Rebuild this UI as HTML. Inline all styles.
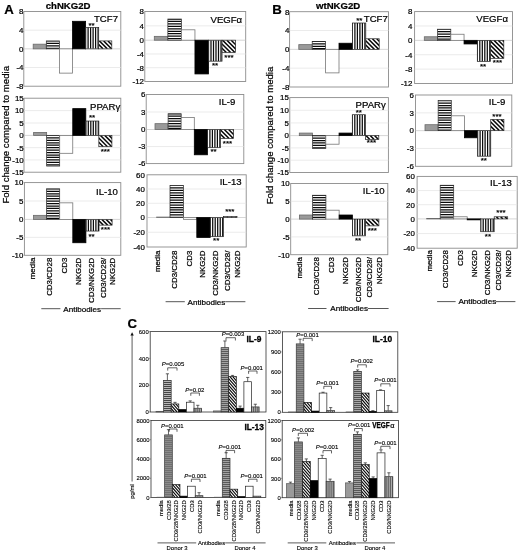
<!DOCTYPE html>
<html lang="en"><head><meta charset="utf-8"><title>NKG2D cytokine figure</title>
<style>html,body{margin:0;padding:0;background:#fff}svg{display:block}text{font-family:'Liberation Sans', Arial, Helvetica, sans-serif;stroke:#000;stroke-width:.22px}</style>
</head><body>
<svg width="520" height="552" viewBox="0 0 520 552">
<defs>
</defs>
<rect width="520" height="552" fill="#fff"/>
<text x="4.2" y="13.8" font-size="13.2" text-anchor="start" font-weight="bold" fill="#000">A</text>
<text x="68.1" y="9.2" font-size="9.6" text-anchor="middle" font-weight="bold" fill="#000">chNKG2D</text>
<text x="9.2" y="134.8" font-size="9.6" text-anchor="middle" fill="#000" transform="rotate(-90 9.2 134.8)">Fold change compared to media</text>
<rect x="23.8" y="11.5" width="97" height="74.7" fill="#fff" stroke="#8c8c8c" stroke-width="0.9"/>
<line x1="23.8" y1="30.18" x2="120.8" y2="30.18" stroke="#e2e2e2" stroke-width="0.7"/>
<line x1="23.8" y1="48.85" x2="120.8" y2="48.85" stroke="#c4c4c4" stroke-width="0.7"/>
<line x1="23.8" y1="67.53" x2="120.8" y2="67.53" stroke="#e2e2e2" stroke-width="0.7"/>
<text x="23.5" y="14.34" font-size="7.9" text-anchor="end" fill="#000">8</text>
<text x="23.5" y="33.02" font-size="7.9" text-anchor="end" fill="#000">4</text>
<text x="23.5" y="51.69" font-size="7.9" text-anchor="end" fill="#000">0</text>
<text x="23.5" y="70.37" font-size="7.9" text-anchor="end" fill="#000">-4</text>
<text x="23.5" y="89.04" font-size="7.9" text-anchor="end" fill="#000">-8</text>
<rect x="33.2" y="44.18" width="13.1" height="4.67" fill="#9a9a9a" stroke="#6a6a6a" stroke-width="0.8"/>
<clipPath id="c1"><rect x="46.3" y="40.91" width="13.1" height="7.94"/></clipPath>
<rect x="46.3" y="40.91" width="13.1" height="7.94" fill="#fff"/>
<path d="M46.3 40.91H59.4M46.3 43.36H59.4M46.3 45.81H59.4M46.3 48.26H59.4" stroke="#0a0a0a" stroke-width="1.25" fill="none" clip-path="url(#c1)"/>
<rect x="46.3" y="40.91" width="13.1" height="7.94" fill="none" stroke="#222" stroke-width="0.7"/>
<rect x="59.4" y="48.85" width="13.1" height="24.28" fill="#ffffff" stroke="#777" stroke-width="0.8"/>
<rect x="72.5" y="21.3" width="13.1" height="27.55" fill="#000000" stroke="#000" stroke-width="0.8"/>
<clipPath id="c2"><rect x="85.6" y="27.37" width="13.1" height="21.48"/></clipPath>
<rect x="85.6" y="27.37" width="13.1" height="21.48" fill="#fff"/>
<path d="M85.6 27.37V48.85M88.1 27.37V48.85M90.6 27.37V48.85M93.1 27.37V48.85M95.6 27.37V48.85M98.1 27.37V48.85" stroke="#0a0a0a" stroke-width="1.25" fill="none" clip-path="url(#c2)"/>
<rect x="85.6" y="27.37" width="13.1" height="21.48" fill="none" stroke="#222" stroke-width="0.7"/>
<clipPath id="c3"><rect x="98.7" y="40.91" width="13.1" height="7.94"/></clipPath>
<rect x="98.7" y="40.91" width="13.1" height="7.94" fill="#fff"/>
<path d="M86.46 40.91L94.4 48.85M90.76 40.91L98.7 48.85M95.06 40.91L103 48.85M99.36 40.91L107.3 48.85M103.66 40.91L111.6 48.85M107.96 40.91L115.9 48.85M112.26 40.91L120.2 48.85" stroke="#0a0a0a" stroke-width="1.5" fill="none" clip-path="url(#c3)"/>
<rect x="98.7" y="40.91" width="13.1" height="7.94" fill="none" stroke="#222" stroke-width="0.7"/>
<text x="94" y="22" font-size="9.6" text-anchor="start" fill="#000">TCF7</text>
<text x="91.5" y="27.5" font-size="8" text-anchor="middle" fill="#000">**</text>
<rect x="24" y="98.2" width="96.8" height="74" fill="#fff" stroke="#8c8c8c" stroke-width="0.9"/>
<line x1="24" y1="110.6" x2="120.8" y2="110.6" stroke="#e2e2e2" stroke-width="0.7"/>
<line x1="24" y1="123" x2="120.8" y2="123" stroke="#e2e2e2" stroke-width="0.7"/>
<line x1="24" y1="135.4" x2="120.8" y2="135.4" stroke="#c4c4c4" stroke-width="0.7"/>
<line x1="24" y1="147.67" x2="120.8" y2="147.67" stroke="#e2e2e2" stroke-width="0.7"/>
<line x1="24" y1="159.93" x2="120.8" y2="159.93" stroke="#e2e2e2" stroke-width="0.7"/>
<text x="23.7" y="101.04" font-size="7.9" text-anchor="end" fill="#000">15</text>
<text x="23.7" y="113.44" font-size="7.9" text-anchor="end" fill="#000">10</text>
<text x="23.7" y="125.84" font-size="7.9" text-anchor="end" fill="#000">5</text>
<text x="23.7" y="138.24" font-size="7.9" text-anchor="end" fill="#000">0</text>
<text x="23.7" y="150.51" font-size="7.9" text-anchor="end" fill="#000">-5</text>
<text x="23.7" y="162.78" font-size="7.9" text-anchor="end" fill="#000">-10</text>
<text x="23.7" y="175.04" font-size="7.9" text-anchor="end" fill="#000">-15</text>
<rect x="33.6" y="132.42" width="13.05" height="2.98" fill="#9a9a9a" stroke="#6a6a6a" stroke-width="0.8"/>
<clipPath id="c4"><rect x="46.65" y="135.4" width="13.05" height="30.67"/></clipPath>
<rect x="46.65" y="135.4" width="13.05" height="30.67" fill="#fff"/>
<path d="M46.65 135.4H59.7M46.65 137.85H59.7M46.65 140.3H59.7M46.65 142.75H59.7M46.65 145.2H59.7M46.65 147.65H59.7M46.65 150.1H59.7M46.65 152.55H59.7M46.65 155H59.7M46.65 157.45H59.7M46.65 159.9H59.7M46.65 162.35H59.7M46.65 164.8H59.7M46.65 167.25H59.7" stroke="#0a0a0a" stroke-width="1.25" fill="none" clip-path="url(#c4)"/>
<rect x="46.65" y="135.4" width="13.05" height="30.67" fill="none" stroke="#222" stroke-width="0.7"/>
<rect x="59.7" y="135.4" width="13.05" height="17.91" fill="#ffffff" stroke="#777" stroke-width="0.8"/>
<rect x="72.75" y="108.62" width="13.05" height="26.78" fill="#000000" stroke="#000" stroke-width="0.8"/>
<clipPath id="c5"><rect x="85.8" y="121.02" width="13.05" height="14.38"/></clipPath>
<rect x="85.8" y="121.02" width="13.05" height="14.38" fill="#fff"/>
<path d="M85.8 121.02V135.4M88.3 121.02V135.4M90.8 121.02V135.4M93.3 121.02V135.4M95.8 121.02V135.4M98.3 121.02V135.4" stroke="#0a0a0a" stroke-width="1.25" fill="none" clip-path="url(#c5)"/>
<rect x="85.8" y="121.02" width="13.05" height="14.38" fill="none" stroke="#222" stroke-width="0.7"/>
<clipPath id="c6"><rect x="98.85" y="135.4" width="13.05" height="11.29"/></clipPath>
<rect x="98.85" y="135.4" width="13.05" height="11.29" fill="#fff"/>
<path d="M83.26 135.4L94.55 146.69M87.56 135.4L98.85 146.69M91.86 135.4L103.15 146.69M96.16 135.4L107.45 146.69M100.46 135.4L111.75 146.69M104.76 135.4L116.05 146.69M109.06 135.4L120.35 146.69M113.36 135.4L124.65 146.69" stroke="#0a0a0a" stroke-width="1.5" fill="none" clip-path="url(#c6)"/>
<rect x="98.85" y="135.4" width="13.05" height="11.29" fill="none" stroke="#222" stroke-width="0.7"/>
<text x="90" y="109.5" font-size="9.6" text-anchor="start" fill="#000">PPARγ</text>
<text x="92" y="119.6" font-size="8" text-anchor="middle" fill="#000">**</text>
<text x="105.3" y="153.6" font-size="8" text-anchor="middle" fill="#000">***</text>
<rect x="24.4" y="182.6" width="96.4" height="72.7" fill="#fff" stroke="#8c8c8c" stroke-width="0.9"/>
<line x1="24.4" y1="201" x2="120.8" y2="201" stroke="#e2e2e2" stroke-width="0.7"/>
<line x1="24.4" y1="219.4" x2="120.8" y2="219.4" stroke="#c4c4c4" stroke-width="0.7"/>
<line x1="24.4" y1="237.35" x2="120.8" y2="237.35" stroke="#e2e2e2" stroke-width="0.7"/>
<text x="23.3" y="185.44" font-size="7.9" text-anchor="end" fill="#000">10</text>
<text x="23.3" y="203.84" font-size="7.9" text-anchor="end" fill="#000">5</text>
<text x="23.3" y="222.24" font-size="7.9" text-anchor="end" fill="#000">0</text>
<text x="23.3" y="240.19" font-size="7.9" text-anchor="end" fill="#000">-5</text>
<text x="23.3" y="258.14" font-size="7.9" text-anchor="end" fill="#000">-10</text>
<rect x="33.5" y="215.35" width="13.1" height="4.05" fill="#9a9a9a" stroke="#6a6a6a" stroke-width="0.8"/>
<clipPath id="c7"><rect x="46.6" y="188.86" width="13.1" height="30.54"/></clipPath>
<rect x="46.6" y="188.86" width="13.1" height="30.54" fill="#fff"/>
<path d="M46.6 188.86H59.7M46.6 191.31H59.7M46.6 193.76H59.7M46.6 196.21H59.7M46.6 198.66H59.7M46.6 201.11H59.7M46.6 203.56H59.7M46.6 206.01H59.7M46.6 208.46H59.7M46.6 210.91H59.7M46.6 213.36H59.7M46.6 215.81H59.7M46.6 218.26H59.7" stroke="#0a0a0a" stroke-width="1.25" fill="none" clip-path="url(#c7)"/>
<rect x="46.6" y="188.86" width="13.1" height="30.54" fill="none" stroke="#222" stroke-width="0.7"/>
<rect x="59.7" y="202.84" width="13.1" height="16.56" fill="#ffffff" stroke="#777" stroke-width="0.8"/>
<rect x="72.8" y="219.4" width="13.1" height="23.34" fill="#000000" stroke="#000" stroke-width="0.8"/>
<clipPath id="c8"><rect x="85.9" y="219.4" width="13.1" height="11.67"/></clipPath>
<rect x="85.9" y="219.4" width="13.1" height="11.67" fill="#fff"/>
<path d="M85.9 219.4V231.07M88.4 219.4V231.07M90.9 219.4V231.07M93.4 219.4V231.07M95.9 219.4V231.07M98.4 219.4V231.07" stroke="#0a0a0a" stroke-width="1.25" fill="none" clip-path="url(#c8)"/>
<rect x="85.9" y="219.4" width="13.1" height="11.67" fill="none" stroke="#222" stroke-width="0.7"/>
<clipPath id="c9"><rect x="99" y="219.4" width="13.1" height="5.74"/></clipPath>
<rect x="99" y="219.4" width="13.1" height="5.74" fill="#fff"/>
<path d="M88.96 219.4L94.7 225.14M93.26 219.4L99 225.14M97.56 219.4L103.3 225.14M101.86 219.4L107.6 225.14M106.16 219.4L111.9 225.14M110.46 219.4L116.2 225.14M114.76 219.4L120.5 225.14" stroke="#0a0a0a" stroke-width="1.5" fill="none" clip-path="url(#c9)"/>
<rect x="99" y="219.4" width="13.1" height="5.74" fill="none" stroke="#222" stroke-width="0.7"/>
<text x="96" y="194.8" font-size="9.6" text-anchor="start" fill="#000">IL-10</text>
<text x="91.5" y="239" font-size="8" text-anchor="middle" fill="#000">**</text>
<text x="105.5" y="232" font-size="8" text-anchor="middle" fill="#000">***</text>
<text x="35.5" y="257.7" font-size="7.9" text-anchor="end" fill="#000" transform="rotate(-90 35.5 257.7)">media</text>
<text x="52" y="257.7" font-size="7.9" text-anchor="end" fill="#000" transform="rotate(-90 52 257.7)">CD3/CD28</text>
<text x="67.4" y="257.7" font-size="7.9" text-anchor="end" fill="#000" transform="rotate(-90 67.4 257.7)">CD3</text>
<text x="81.2" y="257.7" font-size="7.9" text-anchor="end" fill="#000" transform="rotate(-90 81.2 257.7)">NKG2D</text>
<text x="94.1" y="257.7" font-size="7.9" text-anchor="end" fill="#000" transform="rotate(-90 94.1 257.7)">CD3/NKG2D</text>
<text x="105.7" y="257.7" font-size="7.9" text-anchor="end" fill="#000" transform="rotate(-90 105.7 257.7)">CD3/CD28/</text>
<text x="115.1" y="257.7" font-size="7.9" text-anchor="end" fill="#000" transform="rotate(-90 115.1 257.7)">NKG2D</text>
<text x="82.2" y="311.53" font-size="8.1" text-anchor="middle" fill="#000">Antibodies</text>
<line x1="41.3" y1="308.7" x2="60.4" y2="308.7" stroke="#444" stroke-width="0.9"/>
<line x1="101.1" y1="308.7" x2="120.7" y2="308.7" stroke="#444" stroke-width="0.9"/>
<rect x="144.8" y="11.5" width="100.9" height="70" fill="#fff" stroke="#8c8c8c" stroke-width="0.9"/>
<line x1="144.8" y1="25.85" x2="245.7" y2="25.85" stroke="#e2e2e2" stroke-width="0.7"/>
<line x1="144.8" y1="40.2" x2="245.7" y2="40.2" stroke="#c4c4c4" stroke-width="0.7"/>
<line x1="144.8" y1="53.97" x2="245.7" y2="53.97" stroke="#e2e2e2" stroke-width="0.7"/>
<line x1="144.8" y1="67.73" x2="245.7" y2="67.73" stroke="#e2e2e2" stroke-width="0.7"/>
<text x="144" y="14.34" font-size="7.9" text-anchor="end" fill="#000">8</text>
<text x="144" y="28.69" font-size="7.9" text-anchor="end" fill="#000">4</text>
<text x="144" y="43.04" font-size="7.9" text-anchor="end" fill="#000">0</text>
<text x="144" y="56.81" font-size="7.9" text-anchor="end" fill="#000">-4</text>
<text x="144" y="70.58" font-size="7.9" text-anchor="end" fill="#000">-8</text>
<text x="144" y="84.34" font-size="7.9" text-anchor="end" fill="#000">-12</text>
<rect x="154.3" y="36.36" width="13.55" height="3.84" fill="#9a9a9a" stroke="#6a6a6a" stroke-width="0.8"/>
<clipPath id="c10"><rect x="167.85" y="19.03" width="13.55" height="21.17"/></clipPath>
<rect x="167.85" y="19.03" width="13.55" height="21.17" fill="#fff"/>
<path d="M167.85 19.03H181.4M167.85 21.48H181.4M167.85 23.93H181.4M167.85 26.38H181.4M167.85 28.83H181.4M167.85 31.28H181.4M167.85 33.73H181.4M167.85 36.18H181.4M167.85 38.63H181.4M167.85 41.08H181.4" stroke="#0a0a0a" stroke-width="1.25" fill="none" clip-path="url(#c10)"/>
<rect x="167.85" y="19.03" width="13.55" height="21.17" fill="none" stroke="#222" stroke-width="0.7"/>
<rect x="181.4" y="29.8" width="13.55" height="10.4" fill="#ffffff" stroke="#777" stroke-width="0.8"/>
<rect x="194.95" y="40.2" width="13.55" height="33.73" fill="#000000" stroke="#000" stroke-width="0.8"/>
<clipPath id="c11"><rect x="208.5" y="40.2" width="13.55" height="20.99"/></clipPath>
<rect x="208.5" y="40.2" width="13.55" height="20.99" fill="#fff"/>
<path d="M208.5 40.2V61.19M211 40.2V61.19M213.5 40.2V61.19M216 40.2V61.19M218.5 40.2V61.19M221 40.2V61.19" stroke="#0a0a0a" stroke-width="1.25" fill="none" clip-path="url(#c11)"/>
<rect x="208.5" y="40.2" width="13.55" height="20.99" fill="none" stroke="#222" stroke-width="0.7"/>
<clipPath id="c12"><rect x="222.05" y="40.2" width="13.55" height="12.39"/></clipPath>
<rect x="222.05" y="40.2" width="13.55" height="12.39" fill="#fff"/>
<path d="M205.36 40.2L217.75 52.59M209.66 40.2L222.05 52.59M213.96 40.2L226.35 52.59M218.26 40.2L230.65 52.59M222.56 40.2L234.95 52.59M226.86 40.2L239.25 52.59M231.16 40.2L243.55 52.59M235.46 40.2L247.85 52.59M239.76 40.2L252.15 52.59" stroke="#0a0a0a" stroke-width="1.5" fill="none" clip-path="url(#c12)"/>
<rect x="222.05" y="40.2" width="13.55" height="12.39" fill="none" stroke="#222" stroke-width="0.7"/>
<text x="210.5" y="23" font-size="9.6" text-anchor="start" fill="#000">VEGFα</text>
<text x="215" y="68" font-size="8" text-anchor="middle" fill="#000">**</text>
<text x="229" y="59.5" font-size="8" text-anchor="middle" fill="#000">***</text>
<rect x="146.2" y="94.5" width="97.6" height="69.1" fill="#fff" stroke="#8c8c8c" stroke-width="0.9"/>
<line x1="146.2" y1="112" x2="243.8" y2="112" stroke="#e2e2e2" stroke-width="0.7"/>
<line x1="146.2" y1="129.5" x2="243.8" y2="129.5" stroke="#c4c4c4" stroke-width="0.7"/>
<line x1="146.2" y1="146.55" x2="243.8" y2="146.55" stroke="#e2e2e2" stroke-width="0.7"/>
<text x="145.5" y="97.34" font-size="7.9" text-anchor="end" fill="#000">6</text>
<text x="145.5" y="114.84" font-size="7.9" text-anchor="end" fill="#000">3</text>
<text x="145.5" y="132.34" font-size="7.9" text-anchor="end" fill="#000">0</text>
<text x="145.5" y="149.39" font-size="7.9" text-anchor="end" fill="#000">-3</text>
<text x="145.5" y="166.44" font-size="7.9" text-anchor="end" fill="#000">-6</text>
<rect x="155" y="123.67" width="13.1" height="5.83" fill="#9a9a9a" stroke="#6a6a6a" stroke-width="0.8"/>
<clipPath id="c13"><rect x="168.1" y="113.75" width="13.1" height="15.75"/></clipPath>
<rect x="168.1" y="113.75" width="13.1" height="15.75" fill="#fff"/>
<path d="M168.1 113.75H181.2M168.1 116.2H181.2M168.1 118.65H181.2M168.1 121.1H181.2M168.1 123.55H181.2M168.1 126H181.2M168.1 128.45H181.2" stroke="#0a0a0a" stroke-width="1.25" fill="none" clip-path="url(#c13)"/>
<rect x="168.1" y="113.75" width="13.1" height="15.75" fill="none" stroke="#222" stroke-width="0.7"/>
<rect x="181.2" y="117.54" width="13.1" height="11.96" fill="#ffffff" stroke="#777" stroke-width="0.8"/>
<rect x="194.3" y="129.5" width="13.1" height="25.29" fill="#000000" stroke="#000" stroke-width="0.8"/>
<clipPath id="c14"><rect x="207.4" y="129.5" width="13.1" height="18.19"/></clipPath>
<rect x="207.4" y="129.5" width="13.1" height="18.19" fill="#fff"/>
<path d="M207.4 129.5V147.69M209.9 129.5V147.69M212.4 129.5V147.69M214.9 129.5V147.69M217.4 129.5V147.69M219.9 129.5V147.69" stroke="#0a0a0a" stroke-width="1.25" fill="none" clip-path="url(#c14)"/>
<rect x="207.4" y="129.5" width="13.1" height="18.19" fill="none" stroke="#222" stroke-width="0.7"/>
<clipPath id="c15"><rect x="220.5" y="129.5" width="13.1" height="9.09"/></clipPath>
<rect x="220.5" y="129.5" width="13.1" height="9.09" fill="#fff"/>
<path d="M207.11 129.5L216.2 138.59M211.41 129.5L220.5 138.59M215.71 129.5L224.8 138.59M220.01 129.5L229.1 138.59M224.31 129.5L233.4 138.59M228.61 129.5L237.7 138.59M232.91 129.5L242 138.59M237.21 129.5L246.3 138.59" stroke="#0a0a0a" stroke-width="1.5" fill="none" clip-path="url(#c15)"/>
<rect x="220.5" y="129.5" width="13.1" height="9.09" fill="none" stroke="#222" stroke-width="0.7"/>
<text x="218.8" y="104.5" font-size="9.6" text-anchor="start" fill="#000">IL-9</text>
<text x="213.5" y="154.3" font-size="8" text-anchor="middle" fill="#000">**</text>
<text x="227.5" y="145.6" font-size="8" text-anchor="middle" fill="#000">***</text>
<rect x="147" y="174.8" width="99.2" height="72.2" fill="#fff" stroke="#8c8c8c" stroke-width="0.9"/>
<line x1="147" y1="189.03" x2="246.2" y2="189.03" stroke="#e2e2e2" stroke-width="0.7"/>
<line x1="147" y1="203.27" x2="246.2" y2="203.27" stroke="#e2e2e2" stroke-width="0.7"/>
<line x1="147" y1="217.5" x2="246.2" y2="217.5" stroke="#c4c4c4" stroke-width="0.7"/>
<line x1="147" y1="232.25" x2="246.2" y2="232.25" stroke="#e2e2e2" stroke-width="0.7"/>
<text x="144.8" y="177.64" font-size="7.9" text-anchor="end" fill="#000">60</text>
<text x="144.8" y="191.88" font-size="7.9" text-anchor="end" fill="#000">40</text>
<text x="144.8" y="206.11" font-size="7.9" text-anchor="end" fill="#000">20</text>
<text x="144.8" y="220.34" font-size="7.9" text-anchor="end" fill="#000">0</text>
<text x="144.8" y="235.09" font-size="7.9" text-anchor="end" fill="#000">-20</text>
<text x="144.8" y="249.84" font-size="7.9" text-anchor="end" fill="#000">-40</text>
<rect x="156.6" y="217.07" width="13.4" height="0.43" fill="#9a9a9a" stroke="#6a6a6a" stroke-width="0.8"/>
<clipPath id="c16"><rect x="170" y="185.48" width="13.4" height="32.02"/></clipPath>
<rect x="170" y="185.48" width="13.4" height="32.02" fill="#fff"/>
<path d="M170 185.48H183.4M170 187.93H183.4M170 190.38H183.4M170 192.83H183.4M170 195.28H183.4M170 197.73H183.4M170 200.18H183.4M170 202.63H183.4M170 205.08H183.4M170 207.53H183.4M170 209.98H183.4M170 212.43H183.4M170 214.88H183.4M170 217.33H183.4" stroke="#0a0a0a" stroke-width="1.25" fill="none" clip-path="url(#c16)"/>
<rect x="170" y="185.48" width="13.4" height="32.02" fill="none" stroke="#222" stroke-width="0.7"/>
<rect x="183.4" y="217.5" width="13.4" height="1.84" fill="#ffffff" stroke="#777" stroke-width="0.8"/>
<rect x="196.8" y="217.5" width="13.4" height="19.91" fill="#000000" stroke="#000" stroke-width="0.8"/>
<clipPath id="c17"><rect x="210.2" y="217.5" width="13.4" height="19.18"/></clipPath>
<rect x="210.2" y="217.5" width="13.4" height="19.18" fill="#fff"/>
<path d="M210.2 217.5V236.68M212.7 217.5V236.68M215.2 217.5V236.68M217.7 217.5V236.68M220.2 217.5V236.68M222.7 217.5V236.68" stroke="#0a0a0a" stroke-width="1.25" fill="none" clip-path="url(#c17)"/>
<rect x="210.2" y="217.5" width="13.4" height="19.18" fill="none" stroke="#222" stroke-width="0.7"/>
<clipPath id="c18"><rect x="223.6" y="216.5" width="13.4" height="1"/></clipPath>
<rect x="223.6" y="216.5" width="13.4" height="1" fill="#fff"/>
<path d="M218.3 216.5L219.3 217.5M222.6 216.5L223.6 217.5M226.9 216.5L227.9 217.5M231.2 216.5L232.2 217.5M235.5 216.5L236.5 217.5M239.8 216.5L240.8 217.5" stroke="#0a0a0a" stroke-width="1.5" fill="none" clip-path="url(#c18)"/>
<rect x="223.6" y="216.5" width="13.4" height="1" fill="none" stroke="#222" stroke-width="0.7"/>
<text x="219.7" y="185.4" font-size="9.6" text-anchor="start" fill="#000">IL-13</text>
<text x="216.2" y="242.5" font-size="8" text-anchor="middle" fill="#000">**</text>
<text x="229.8" y="214" font-size="8" text-anchor="middle" fill="#000">***</text>
<text x="159.7" y="250.6" font-size="7.9" text-anchor="end" fill="#000" transform="rotate(-90 159.7 250.6)">media</text>
<text x="176.6" y="250.6" font-size="7.9" text-anchor="end" fill="#000" transform="rotate(-90 176.6 250.6)">CD3/CD28</text>
<text x="192" y="250.6" font-size="7.9" text-anchor="end" fill="#000" transform="rotate(-90 192 250.6)">CD3</text>
<text x="205.4" y="250.6" font-size="7.9" text-anchor="end" fill="#000" transform="rotate(-90 205.4 250.6)">NKG2D</text>
<text x="218.4" y="250.6" font-size="7.9" text-anchor="end" fill="#000" transform="rotate(-90 218.4 250.6)">CD3/NKG2D</text>
<text x="229.9" y="250.6" font-size="7.9" text-anchor="end" fill="#000" transform="rotate(-90 229.9 250.6)">CD3/CD28/</text>
<text x="239.8" y="250.6" font-size="7.9" text-anchor="end" fill="#000" transform="rotate(-90 239.8 250.6)">NKG2D</text>
<text x="206.5" y="304.53" font-size="8.1" text-anchor="middle" fill="#000">Antibodies</text>
<line x1="165.6" y1="301.7" x2="184.8" y2="301.7" stroke="#444" stroke-width="0.9"/>
<line x1="225.2" y1="301.7" x2="245.4" y2="301.7" stroke="#444" stroke-width="0.9"/>
<text x="272.3" y="13.8" font-size="13.2" text-anchor="start" font-weight="bold" fill="#000">B</text>
<text x="338.1" y="9.2" font-size="9.6" text-anchor="middle" font-weight="bold" fill="#000">wtNKG2D</text>
<text x="273.4" y="135.5" font-size="9.6" text-anchor="middle" fill="#000" transform="rotate(-90 273.4 135.5)">Fold change compared to media</text>
<rect x="289.6" y="11.7" width="98.9" height="75.3" fill="#fff" stroke="#8c8c8c" stroke-width="0.9"/>
<line x1="289.6" y1="30.52" x2="388.5" y2="30.52" stroke="#e2e2e2" stroke-width="0.7"/>
<line x1="289.6" y1="49.35" x2="388.5" y2="49.35" stroke="#c4c4c4" stroke-width="0.7"/>
<line x1="289.6" y1="68.17" x2="388.5" y2="68.17" stroke="#e2e2e2" stroke-width="0.7"/>
<text x="289.3" y="14.54" font-size="7.9" text-anchor="end" fill="#000">8</text>
<text x="289.3" y="33.37" font-size="7.9" text-anchor="end" fill="#000">4</text>
<text x="289.3" y="52.19" font-size="7.9" text-anchor="end" fill="#000">0</text>
<text x="289.3" y="71.02" font-size="7.9" text-anchor="end" fill="#000">-4</text>
<text x="289.3" y="89.84" font-size="7.9" text-anchor="end" fill="#000">-8</text>
<rect x="298.8" y="44.64" width="13.4" height="4.71" fill="#9a9a9a" stroke="#6a6a6a" stroke-width="0.8"/>
<clipPath id="c19"><rect x="312.2" y="41.35" width="13.4" height="8"/></clipPath>
<rect x="312.2" y="41.35" width="13.4" height="8" fill="#fff"/>
<path d="M312.2 41.35H325.6M312.2 43.8H325.6M312.2 46.25H325.6M312.2 48.7H325.6" stroke="#0a0a0a" stroke-width="1.25" fill="none" clip-path="url(#c19)"/>
<rect x="312.2" y="41.35" width="13.4" height="8" fill="none" stroke="#222" stroke-width="0.7"/>
<rect x="325.6" y="49.35" width="13.4" height="23.53" fill="#ffffff" stroke="#777" stroke-width="0.8"/>
<rect x="339" y="43.23" width="13.4" height="6.12" fill="#000000" stroke="#000" stroke-width="0.8"/>
<clipPath id="c20"><rect x="352.4" y="23" width="13.4" height="26.35"/></clipPath>
<rect x="352.4" y="23" width="13.4" height="26.35" fill="#fff"/>
<path d="M352.4 23V49.35M354.9 23V49.35M357.4 23V49.35M359.9 23V49.35M362.4 23V49.35M364.9 23V49.35" stroke="#0a0a0a" stroke-width="1.25" fill="none" clip-path="url(#c20)"/>
<rect x="352.4" y="23" width="13.4" height="26.35" fill="none" stroke="#222" stroke-width="0.7"/>
<clipPath id="c21"><rect x="365.8" y="38.76" width="13.4" height="10.59"/></clipPath>
<rect x="365.8" y="38.76" width="13.4" height="10.59" fill="#fff"/>
<path d="M350.91 38.76L361.5 49.35M355.21 38.76L365.8 49.35M359.51 38.76L370.1 49.35M363.81 38.76L374.4 49.35M368.11 38.76L378.7 49.35M372.41 38.76L383 49.35M376.71 38.76L387.3 49.35M381.01 38.76L391.6 49.35" stroke="#0a0a0a" stroke-width="1.5" fill="none" clip-path="url(#c21)"/>
<rect x="365.8" y="38.76" width="13.4" height="10.59" fill="none" stroke="#222" stroke-width="0.7"/>
<text x="363.8" y="22" font-size="9.6" text-anchor="start" fill="#000">TCF7</text>
<text x="359.3" y="23.2" font-size="8" text-anchor="middle" fill="#000">**</text>
<rect x="289.8" y="97.6" width="98.6" height="74.9" fill="#fff" stroke="#8c8c8c" stroke-width="0.9"/>
<line x1="289.8" y1="110.27" x2="388.4" y2="110.27" stroke="#e2e2e2" stroke-width="0.7"/>
<line x1="289.8" y1="122.93" x2="388.4" y2="122.93" stroke="#e2e2e2" stroke-width="0.7"/>
<line x1="289.8" y1="135.6" x2="388.4" y2="135.6" stroke="#c4c4c4" stroke-width="0.7"/>
<line x1="289.8" y1="147.9" x2="388.4" y2="147.9" stroke="#e2e2e2" stroke-width="0.7"/>
<line x1="289.8" y1="160.2" x2="388.4" y2="160.2" stroke="#e2e2e2" stroke-width="0.7"/>
<text x="288.9" y="100.44" font-size="7.9" text-anchor="end" fill="#000">15</text>
<text x="288.9" y="113.11" font-size="7.9" text-anchor="end" fill="#000">10</text>
<text x="288.9" y="125.78" font-size="7.9" text-anchor="end" fill="#000">5</text>
<text x="288.9" y="138.44" font-size="7.9" text-anchor="end" fill="#000">0</text>
<text x="288.9" y="150.74" font-size="7.9" text-anchor="end" fill="#000">-5</text>
<text x="288.9" y="163.04" font-size="7.9" text-anchor="end" fill="#000">-10</text>
<text x="288.9" y="175.34" font-size="7.9" text-anchor="end" fill="#000">-15</text>
<rect x="299.3" y="133.07" width="13.25" height="2.53" fill="#9a9a9a" stroke="#6a6a6a" stroke-width="0.8"/>
<clipPath id="c22"><rect x="312.55" y="135.6" width="13.25" height="12.79"/></clipPath>
<rect x="312.55" y="135.6" width="13.25" height="12.79" fill="#fff"/>
<path d="M312.55 135.6H325.8M312.55 138.05H325.8M312.55 140.5H325.8M312.55 142.95H325.8M312.55 145.4H325.8M312.55 147.85H325.8" stroke="#0a0a0a" stroke-width="1.25" fill="none" clip-path="url(#c22)"/>
<rect x="312.55" y="135.6" width="13.25" height="12.79" fill="none" stroke="#222" stroke-width="0.7"/>
<rect x="325.8" y="135.6" width="13.25" height="8.61" fill="#ffffff" stroke="#777" stroke-width="0.8"/>
<rect x="339.05" y="133.07" width="13.25" height="2.53" fill="#000000" stroke="#000" stroke-width="0.8"/>
<clipPath id="c23"><rect x="352.3" y="114.7" width="13.25" height="20.9"/></clipPath>
<rect x="352.3" y="114.7" width="13.25" height="20.9" fill="#fff"/>
<path d="M352.3 114.7V135.6M354.8 114.7V135.6M357.3 114.7V135.6M359.8 114.7V135.6M362.3 114.7V135.6M364.8 114.7V135.6" stroke="#0a0a0a" stroke-width="1.25" fill="none" clip-path="url(#c23)"/>
<rect x="352.3" y="114.7" width="13.25" height="20.9" fill="none" stroke="#222" stroke-width="0.7"/>
<clipPath id="c24"><rect x="365.55" y="135.6" width="13.25" height="3.81"/></clipPath>
<rect x="365.55" y="135.6" width="13.25" height="3.81" fill="#fff"/>
<path d="M357.44 135.6L361.25 139.41M361.74 135.6L365.55 139.41M366.04 135.6L369.85 139.41M370.34 135.6L374.15 139.41M374.64 135.6L378.45 139.41M378.94 135.6L382.75 139.41" stroke="#0a0a0a" stroke-width="1.5" fill="none" clip-path="url(#c24)"/>
<rect x="365.55" y="135.6" width="13.25" height="3.81" fill="none" stroke="#222" stroke-width="0.7"/>
<text x="355.6" y="108" font-size="9.6" text-anchor="start" fill="#000">PPARγ</text>
<text x="358.8" y="114.6" font-size="8" text-anchor="middle" fill="#000">**</text>
<text x="371.5" y="145.3" font-size="8" text-anchor="middle" fill="#000">***</text>
<rect x="290.7" y="183.5" width="97.1" height="71.2" fill="#fff" stroke="#8c8c8c" stroke-width="0.9"/>
<line x1="290.7" y1="201.3" x2="387.8" y2="201.3" stroke="#e2e2e2" stroke-width="0.7"/>
<line x1="290.7" y1="219.1" x2="387.8" y2="219.1" stroke="#c4c4c4" stroke-width="0.7"/>
<line x1="290.7" y1="236.9" x2="387.8" y2="236.9" stroke="#e2e2e2" stroke-width="0.7"/>
<text x="289.7" y="186.34" font-size="7.9" text-anchor="end" fill="#000">10</text>
<text x="289.7" y="204.14" font-size="7.9" text-anchor="end" fill="#000">5</text>
<text x="289.7" y="221.94" font-size="7.9" text-anchor="end" fill="#000">0</text>
<text x="289.7" y="239.74" font-size="7.9" text-anchor="end" fill="#000">-5</text>
<text x="289.7" y="257.54" font-size="7.9" text-anchor="end" fill="#000">-10</text>
<rect x="299.4" y="215.01" width="13.25" height="4.09" fill="#9a9a9a" stroke="#6a6a6a" stroke-width="0.8"/>
<clipPath id="c25"><rect x="312.65" y="195.25" width="13.25" height="23.85"/></clipPath>
<rect x="312.65" y="195.25" width="13.25" height="23.85" fill="#fff"/>
<path d="M312.65 195.25H325.9M312.65 197.7H325.9M312.65 200.15H325.9M312.65 202.6H325.9M312.65 205.05H325.9M312.65 207.5H325.9M312.65 209.95H325.9M312.65 212.4H325.9M312.65 214.85H325.9M312.65 217.3H325.9M312.65 219.75H325.9" stroke="#0a0a0a" stroke-width="1.25" fill="none" clip-path="url(#c25)"/>
<rect x="312.65" y="195.25" width="13.25" height="23.85" fill="none" stroke="#222" stroke-width="0.7"/>
<rect x="325.9" y="210.2" width="13.25" height="8.9" fill="#ffffff" stroke="#777" stroke-width="0.8"/>
<rect x="339.15" y="215.01" width="13.25" height="4.09" fill="#000000" stroke="#000" stroke-width="0.8"/>
<clipPath id="c26"><rect x="352.4" y="219.1" width="13.25" height="16.73"/></clipPath>
<rect x="352.4" y="219.1" width="13.25" height="16.73" fill="#fff"/>
<path d="M352.4 219.1V235.83M354.9 219.1V235.83M357.4 219.1V235.83M359.9 219.1V235.83M362.4 219.1V235.83M364.9 219.1V235.83" stroke="#0a0a0a" stroke-width="1.25" fill="none" clip-path="url(#c26)"/>
<rect x="352.4" y="219.1" width="13.25" height="16.73" fill="none" stroke="#222" stroke-width="0.7"/>
<clipPath id="c27"><rect x="365.65" y="219.1" width="13.25" height="6.76"/></clipPath>
<rect x="365.65" y="219.1" width="13.25" height="6.76" fill="#fff"/>
<path d="M354.59 219.1L361.35 225.86M358.89 219.1L365.65 225.86M363.19 219.1L369.95 225.86M367.49 219.1L374.25 225.86M371.79 219.1L378.55 225.86M376.09 219.1L382.85 225.86M380.39 219.1L387.15 225.86" stroke="#0a0a0a" stroke-width="1.5" fill="none" clip-path="url(#c27)"/>
<rect x="365.65" y="219.1" width="13.25" height="6.76" fill="none" stroke="#222" stroke-width="0.7"/>
<text x="362.8" y="194.4" font-size="9.6" text-anchor="start" fill="#000">IL-10</text>
<text x="358" y="243.3" font-size="8" text-anchor="middle" fill="#000">**</text>
<text x="372.3" y="233.2" font-size="8" text-anchor="middle" fill="#000">***</text>
<text x="302.4" y="257.1" font-size="7.9" text-anchor="end" fill="#000" transform="rotate(-90 302.4 257.1)">media</text>
<text x="318.9" y="257.1" font-size="7.9" text-anchor="end" fill="#000" transform="rotate(-90 318.9 257.1)">CD3/CD28</text>
<text x="334.3" y="257.1" font-size="7.9" text-anchor="end" fill="#000" transform="rotate(-90 334.3 257.1)">CD3</text>
<text x="347.9" y="257.1" font-size="7.9" text-anchor="end" fill="#000" transform="rotate(-90 347.9 257.1)">NKG2D</text>
<text x="360.9" y="257.1" font-size="7.9" text-anchor="end" fill="#000" transform="rotate(-90 360.9 257.1)">CD3/NKG2D</text>
<text x="372" y="257.1" font-size="7.9" text-anchor="end" fill="#000" transform="rotate(-90 372 257.1)">CD3/CD28/</text>
<text x="381.6" y="257.1" font-size="7.9" text-anchor="end" fill="#000" transform="rotate(-90 381.6 257.1)">NKG2D</text>
<text x="349.2" y="311.33" font-size="8.1" text-anchor="middle" fill="#000">Antibodies</text>
<line x1="308.1" y1="308.5" x2="326.5" y2="308.5" stroke="#444" stroke-width="0.9"/>
<line x1="367.9" y1="308.5" x2="388.6" y2="308.5" stroke="#444" stroke-width="0.9"/>
<rect x="414.6" y="11.6" width="97.9" height="71.9" fill="#fff" stroke="#8c8c8c" stroke-width="0.9"/>
<line x1="414.6" y1="25.98" x2="512.5" y2="25.98" stroke="#e2e2e2" stroke-width="0.7"/>
<line x1="414.6" y1="40.36" x2="512.5" y2="40.36" stroke="#c4c4c4" stroke-width="0.7"/>
<line x1="414.6" y1="54.74" x2="512.5" y2="54.74" stroke="#e2e2e2" stroke-width="0.7"/>
<line x1="414.6" y1="69.12" x2="512.5" y2="69.12" stroke="#e2e2e2" stroke-width="0.7"/>
<text x="412.4" y="14.44" font-size="7.9" text-anchor="end" fill="#000">8</text>
<text x="412.4" y="28.82" font-size="7.9" text-anchor="end" fill="#000">4</text>
<text x="412.4" y="43.2" font-size="7.9" text-anchor="end" fill="#000">0</text>
<text x="412.4" y="57.58" font-size="7.9" text-anchor="end" fill="#000">-4</text>
<text x="412.4" y="71.96" font-size="7.9" text-anchor="end" fill="#000">-8</text>
<text x="412.4" y="86.34" font-size="7.9" text-anchor="end" fill="#000">-12</text>
<rect x="424.3" y="36.77" width="13.25" height="3.59" fill="#9a9a9a" stroke="#6a6a6a" stroke-width="0.8"/>
<clipPath id="c28"><rect x="437.55" y="29.22" width="13.25" height="11.14"/></clipPath>
<rect x="437.55" y="29.22" width="13.25" height="11.14" fill="#fff"/>
<path d="M437.55 29.22H450.8M437.55 31.67H450.8M437.55 34.12H450.8M437.55 36.57H450.8M437.55 39.02H450.8M437.55 41.47H450.8" stroke="#0a0a0a" stroke-width="1.25" fill="none" clip-path="url(#c28)"/>
<rect x="437.55" y="29.22" width="13.25" height="11.14" fill="none" stroke="#222" stroke-width="0.7"/>
<rect x="450.8" y="34.25" width="13.25" height="6.11" fill="#ffffff" stroke="#777" stroke-width="0.8"/>
<rect x="464.05" y="40.36" width="13.25" height="3.59" fill="#000000" stroke="#000" stroke-width="0.8"/>
<clipPath id="c29"><rect x="477.3" y="40.36" width="13.25" height="21.21"/></clipPath>
<rect x="477.3" y="40.36" width="13.25" height="21.21" fill="#fff"/>
<path d="M477.3 40.36V61.57M479.8 40.36V61.57M482.3 40.36V61.57M484.8 40.36V61.57M487.3 40.36V61.57M489.8 40.36V61.57" stroke="#0a0a0a" stroke-width="1.25" fill="none" clip-path="url(#c29)"/>
<rect x="477.3" y="40.36" width="13.25" height="21.21" fill="none" stroke="#222" stroke-width="0.7"/>
<clipPath id="c30"><rect x="490.55" y="40.36" width="13.25" height="17.98"/></clipPath>
<rect x="490.55" y="40.36" width="13.25" height="17.98" fill="#fff"/>
<path d="M468.27 40.36L486.25 58.34M472.57 40.36L490.55 58.34M476.88 40.36L494.85 58.34M481.18 40.36L499.15 58.34M485.48 40.36L503.45 58.34M489.78 40.36L507.75 58.34M494.08 40.36L512.05 58.34M498.38 40.36L516.35 58.34M502.68 40.36L520.65 58.34M506.98 40.36L524.95 58.34" stroke="#0a0a0a" stroke-width="1.5" fill="none" clip-path="url(#c30)"/>
<rect x="490.55" y="40.36" width="13.25" height="17.98" fill="none" stroke="#222" stroke-width="0.7"/>
<text x="476.3" y="22" font-size="9.6" text-anchor="start" fill="#000">VEGFα</text>
<text x="483" y="69" font-size="8" text-anchor="middle" fill="#000">**</text>
<text x="497.5" y="65" font-size="8" text-anchor="middle" fill="#000">***</text>
<rect x="415.5" y="95" width="96.3" height="71.3" fill="#fff" stroke="#8c8c8c" stroke-width="0.9"/>
<line x1="415.5" y1="112.83" x2="511.8" y2="112.83" stroke="#e2e2e2" stroke-width="0.7"/>
<line x1="415.5" y1="130.65" x2="511.8" y2="130.65" stroke="#c4c4c4" stroke-width="0.7"/>
<line x1="415.5" y1="148.48" x2="511.8" y2="148.48" stroke="#e2e2e2" stroke-width="0.7"/>
<text x="413.9" y="97.84" font-size="7.9" text-anchor="end" fill="#000">6</text>
<text x="413.9" y="115.67" font-size="7.9" text-anchor="end" fill="#000">3</text>
<text x="413.9" y="133.49" font-size="7.9" text-anchor="end" fill="#000">0</text>
<text x="413.9" y="151.32" font-size="7.9" text-anchor="end" fill="#000">-3</text>
<text x="413.9" y="169.14" font-size="7.9" text-anchor="end" fill="#000">-6</text>
<rect x="425" y="124.71" width="13.15" height="5.94" fill="#9a9a9a" stroke="#6a6a6a" stroke-width="0.8"/>
<clipPath id="c31"><rect x="438.15" y="100.64" width="13.15" height="30.01"/></clipPath>
<rect x="438.15" y="100.64" width="13.15" height="30.01" fill="#fff"/>
<path d="M438.15 100.64H451.3M438.15 103.09H451.3M438.15 105.54H451.3M438.15 107.99H451.3M438.15 110.44H451.3M438.15 112.89H451.3M438.15 115.34H451.3M438.15 117.79H451.3M438.15 120.24H451.3M438.15 122.69H451.3M438.15 125.14H451.3M438.15 127.59H451.3M438.15 130.04H451.3" stroke="#0a0a0a" stroke-width="1.25" fill="none" clip-path="url(#c31)"/>
<rect x="438.15" y="100.64" width="13.15" height="30.01" fill="none" stroke="#222" stroke-width="0.7"/>
<rect x="451.3" y="115.8" width="13.15" height="14.85" fill="#ffffff" stroke="#777" stroke-width="0.8"/>
<rect x="464.45" y="130.65" width="13.15" height="7.13" fill="#000000" stroke="#000" stroke-width="0.8"/>
<clipPath id="c32"><rect x="477.6" y="130.65" width="13.15" height="25.55"/></clipPath>
<rect x="477.6" y="130.65" width="13.15" height="25.55" fill="#fff"/>
<path d="M477.6 130.65V156.2M480.1 130.65V156.2M482.6 130.65V156.2M485.1 130.65V156.2M487.6 130.65V156.2M490.1 130.65V156.2" stroke="#0a0a0a" stroke-width="1.25" fill="none" clip-path="url(#c32)"/>
<rect x="477.6" y="130.65" width="13.15" height="25.55" fill="none" stroke="#222" stroke-width="0.7"/>
<clipPath id="c33"><rect x="490.75" y="119.36" width="13.15" height="11.29"/></clipPath>
<rect x="490.75" y="119.36" width="13.15" height="11.29" fill="#fff"/>
<path d="M475.16 119.36L486.45 130.65M479.46 119.36L490.75 130.65M483.76 119.36L495.05 130.65M488.06 119.36L499.35 130.65M492.36 119.36L503.65 130.65M496.66 119.36L507.95 130.65M500.96 119.36L512.25 130.65M505.26 119.36L516.55 130.65" stroke="#0a0a0a" stroke-width="1.5" fill="none" clip-path="url(#c33)"/>
<rect x="490.75" y="119.36" width="13.15" height="11.29" fill="none" stroke="#222" stroke-width="0.7"/>
<text x="488.8" y="104.5" font-size="9.6" text-anchor="start" fill="#000">IL-9</text>
<text x="483.8" y="162.8" font-size="8" text-anchor="middle" fill="#000">**</text>
<text x="497" y="119" font-size="8" text-anchor="middle" fill="#000">***</text>
<rect x="417.1" y="176.4" width="100.1" height="71.8" fill="#fff" stroke="#8c8c8c" stroke-width="0.9"/>
<line x1="417.1" y1="190.57" x2="517.2" y2="190.57" stroke="#e2e2e2" stroke-width="0.7"/>
<line x1="417.1" y1="204.73" x2="517.2" y2="204.73" stroke="#e2e2e2" stroke-width="0.7"/>
<line x1="417.1" y1="218.9" x2="517.2" y2="218.9" stroke="#c4c4c4" stroke-width="0.7"/>
<line x1="417.1" y1="233.55" x2="517.2" y2="233.55" stroke="#e2e2e2" stroke-width="0.7"/>
<text x="414.9" y="179.24" font-size="7.9" text-anchor="end" fill="#000">60</text>
<text x="414.9" y="193.41" font-size="7.9" text-anchor="end" fill="#000">40</text>
<text x="414.9" y="207.58" font-size="7.9" text-anchor="end" fill="#000">20</text>
<text x="414.9" y="221.74" font-size="7.9" text-anchor="end" fill="#000">0</text>
<text x="414.9" y="236.39" font-size="7.9" text-anchor="end" fill="#000">-20</text>
<text x="414.9" y="251.04" font-size="7.9" text-anchor="end" fill="#000">-40</text>
<rect x="426.7" y="218.47" width="13.5" height="0.43" fill="#9a9a9a" stroke="#6a6a6a" stroke-width="0.8"/>
<clipPath id="c34"><rect x="440.2" y="185.25" width="13.5" height="33.65"/></clipPath>
<rect x="440.2" y="185.25" width="13.5" height="33.65" fill="#fff"/>
<path d="M440.2 185.25H453.7M440.2 187.7H453.7M440.2 190.15H453.7M440.2 192.6H453.7M440.2 195.05H453.7M440.2 197.5H453.7M440.2 199.95H453.7M440.2 202.4H453.7M440.2 204.85H453.7M440.2 207.3H453.7M440.2 209.75H453.7M440.2 212.2H453.7M440.2 214.65H453.7M440.2 217.1H453.7M440.2 219.55H453.7" stroke="#0a0a0a" stroke-width="1.25" fill="none" clip-path="url(#c34)"/>
<rect x="440.2" y="185.25" width="13.5" height="33.65" fill="none" stroke="#222" stroke-width="0.7"/>
<rect x="453.7" y="216.78" width="13.5" height="2.12" fill="#ffffff" stroke="#777" stroke-width="0.8"/>
<rect x="467.2" y="218.9" width="13.5" height="0.95" fill="#000000" stroke="#000" stroke-width="0.8"/>
<clipPath id="c35"><rect x="480.7" y="218.9" width="13.5" height="12.82"/></clipPath>
<rect x="480.7" y="218.9" width="13.5" height="12.82" fill="#fff"/>
<path d="M480.7 218.9V231.72M483.2 218.9V231.72M485.7 218.9V231.72M488.2 218.9V231.72M490.7 218.9V231.72M493.2 218.9V231.72" stroke="#0a0a0a" stroke-width="1.25" fill="none" clip-path="url(#c35)"/>
<rect x="480.7" y="218.9" width="13.5" height="12.82" fill="none" stroke="#222" stroke-width="0.7"/>
<clipPath id="c36"><rect x="494.2" y="216.78" width="13.5" height="2.12"/></clipPath>
<rect x="494.2" y="216.78" width="13.5" height="2.12" fill="#fff"/>
<path d="M487.77 216.78L489.9 218.9M492.07 216.78L494.2 218.9M496.38 216.78L498.5 218.9M500.68 216.78L502.8 218.9M504.98 216.78L507.1 218.9M509.28 216.78L511.4 218.9" stroke="#0a0a0a" stroke-width="1.5" fill="none" clip-path="url(#c36)"/>
<rect x="494.2" y="216.78" width="13.5" height="2.12" fill="none" stroke="#222" stroke-width="0.7"/>
<text x="490" y="186.2" font-size="9.6" text-anchor="start" fill="#000">IL-13</text>
<text x="487.9" y="238.7" font-size="8" text-anchor="middle" fill="#000">**</text>
<text x="501" y="214.7" font-size="8" text-anchor="middle" fill="#000">***</text>
<text x="431.6" y="250.1" font-size="7.9" text-anchor="end" fill="#000" transform="rotate(-90 431.6 250.1)">media</text>
<text x="447.7" y="250.1" font-size="7.9" text-anchor="end" fill="#000" transform="rotate(-90 447.7 250.1)">CD3/CD28</text>
<text x="463.1" y="250.1" font-size="7.9" text-anchor="end" fill="#000" transform="rotate(-90 463.1 250.1)">CD3</text>
<text x="477" y="250.1" font-size="7.9" text-anchor="end" fill="#000" transform="rotate(-90 477 250.1)">NKG2D</text>
<text x="490.1" y="250.1" font-size="7.9" text-anchor="end" fill="#000" transform="rotate(-90 490.1 250.1)">CD3/NKG2D</text>
<text x="501.2" y="250.1" font-size="7.9" text-anchor="end" fill="#000" transform="rotate(-90 501.2 250.1)">CD3/CD28/</text>
<text x="510.6" y="250.1" font-size="7.9" text-anchor="end" fill="#000" transform="rotate(-90 510.6 250.1)">NKG2D</text>
<text x="477.3" y="304.44" font-size="8.1" text-anchor="middle" fill="#000">Antibodies</text>
<line x1="437.1" y1="301.6" x2="455.6" y2="301.6" stroke="#444" stroke-width="0.9"/>
<line x1="495.8" y1="301.6" x2="515.4" y2="301.6" stroke="#444" stroke-width="0.9"/>
<text x="127.6" y="328.3" font-size="13.2" text-anchor="start" font-weight="bold" fill="#000">C</text>
<line x1="132.1" y1="335" x2="132.1" y2="481.5" stroke="#777" stroke-width="1.2"/>
<path d="M132.1 332.3 L130.4 335.6 L133.8 335.6 Z" fill="#111"/>
<text x="133.6" y="491.5" font-size="6" text-anchor="middle" fill="#000" transform="rotate(-90 133.6 491.5)" style="stroke-width:.12px">pg/ml</text>
<rect x="150.2" y="331.6" width="115.8" height="80.4" fill="#fff" stroke="#333" stroke-width="0.8"/>
<line x1="149.2" y1="331.6" x2="150.2" y2="331.6" stroke="#555" stroke-width="0.6"/>
<text x="148.7" y="333.72" font-size="5.9" text-anchor="end" fill="#000" style="stroke-width:.12px">600</text>
<line x1="149.2" y1="358.4" x2="150.2" y2="358.4" stroke="#555" stroke-width="0.6"/>
<text x="148.7" y="360.52" font-size="5.9" text-anchor="end" fill="#000" style="stroke-width:.12px">400</text>
<line x1="149.2" y1="385.2" x2="150.2" y2="385.2" stroke="#555" stroke-width="0.6"/>
<text x="148.7" y="387.32" font-size="5.9" text-anchor="end" fill="#000" style="stroke-width:.12px">200</text>
<line x1="149.2" y1="412" x2="150.2" y2="412" stroke="#555" stroke-width="0.6"/>
<text x="148.7" y="414.12" font-size="5.9" text-anchor="end" fill="#000" style="stroke-width:.12px">0</text>
<rect x="156" y="411.33" width="7.6" height="0.67" fill="#9a9a9a" stroke="#555" stroke-width="0.7"/>
<line x1="167.4" y1="380.51" x2="167.4" y2="373.81" stroke="#222" stroke-width="0.7"/>
<line x1="165.8" y1="373.81" x2="169" y2="373.81" stroke="#222" stroke-width="0.7"/>
<clipPath id="c37"><rect x="163.6" y="380.51" width="7.6" height="31.49"/></clipPath>
<rect x="163.6" y="380.51" width="7.6" height="31.49" fill="#b8b8b8"/>
<path d="M163.6 380.51H171.2M163.6 382.51H171.2M163.6 384.51H171.2M163.6 386.51H171.2M163.6 388.51H171.2M163.6 390.51H171.2M163.6 392.51H171.2M163.6 394.51H171.2M163.6 396.51H171.2M163.6 398.51H171.2M163.6 400.51H171.2M163.6 402.51H171.2M163.6 404.51H171.2M163.6 406.51H171.2M163.6 408.51H171.2M163.6 410.51H171.2M163.6 412.51H171.2" stroke="#383838" stroke-width="0.9" fill="none" clip-path="url(#c37)"/>
<rect x="163.6" y="380.51" width="7.6" height="31.49" fill="none" stroke="#333" stroke-width="0.7"/>
<line x1="175" y1="403.96" x2="175" y2="402.35" stroke="#222" stroke-width="0.7"/>
<line x1="173.4" y1="402.35" x2="176.6" y2="402.35" stroke="#222" stroke-width="0.7"/>
<clipPath id="c38"><rect x="171.2" y="403.96" width="7.6" height="8.04"/></clipPath>
<rect x="171.2" y="403.96" width="7.6" height="8.04" fill="#fff"/>
<path d="M161.31 403.96L168.3 412M164.21 403.96L171.2 412M167.11 403.96L174.1 412M170.01 403.96L177 412M172.91 403.96L179.9 412M175.81 403.96L182.8 412M178.71 403.96L185.7 412M181.61 403.96L188.6 412" stroke="#0a0a0a" stroke-width="1.15" fill="none" clip-path="url(#c38)"/>
<rect x="171.2" y="403.96" width="7.6" height="8.04" fill="none" stroke="#111" stroke-width="0.7"/>
<rect x="178.8" y="409.59" width="7.6" height="2.41" fill="#000" stroke="#000" stroke-width="0.7"/>
<line x1="190.2" y1="402.22" x2="190.2" y2="400.88" stroke="#222" stroke-width="0.7"/>
<line x1="188.6" y1="400.88" x2="191.8" y2="400.88" stroke="#222" stroke-width="0.7"/>
<rect x="186.4" y="402.22" width="7.6" height="9.78" fill="#fff" stroke="#222" stroke-width="0.7"/>
<line x1="197.8" y1="408.25" x2="197.8" y2="405.3" stroke="#222" stroke-width="0.7"/>
<line x1="196.2" y1="405.3" x2="199.4" y2="405.3" stroke="#222" stroke-width="0.7"/>
<clipPath id="c39"><rect x="194" y="408.25" width="7.6" height="3.75"/></clipPath>
<rect x="194" y="408.25" width="7.6" height="3.75" fill="#bcbcbc"/>
<path d="M194 408.25V412M195.9 408.25V412M197.8 408.25V412M199.7 408.25V412M201.6 408.25V412" stroke="#3a3a3a" stroke-width="0.8" fill="none" clip-path="url(#c39)"/>
<rect x="194" y="408.25" width="7.6" height="3.75" fill="none" stroke="#333" stroke-width="0.7"/>
<rect x="213.5" y="410.93" width="7.6" height="1.07" fill="#9a9a9a" stroke="#555" stroke-width="0.7"/>
<line x1="224.9" y1="347.68" x2="224.9" y2="340.98" stroke="#222" stroke-width="0.7"/>
<line x1="223.3" y1="340.98" x2="226.5" y2="340.98" stroke="#222" stroke-width="0.7"/>
<clipPath id="c40"><rect x="221.1" y="347.68" width="7.6" height="64.32"/></clipPath>
<rect x="221.1" y="347.68" width="7.6" height="64.32" fill="#b8b8b8"/>
<path d="M221.1 347.68H228.7M221.1 349.68H228.7M221.1 351.68H228.7M221.1 353.68H228.7M221.1 355.68H228.7M221.1 357.68H228.7M221.1 359.68H228.7M221.1 361.68H228.7M221.1 363.68H228.7M221.1 365.68H228.7M221.1 367.68H228.7M221.1 369.68H228.7M221.1 371.68H228.7M221.1 373.68H228.7M221.1 375.68H228.7M221.1 377.68H228.7M221.1 379.68H228.7M221.1 381.68H228.7M221.1 383.68H228.7M221.1 385.68H228.7M221.1 387.68H228.7M221.1 389.68H228.7M221.1 391.68H228.7M221.1 393.68H228.7M221.1 395.68H228.7M221.1 397.68H228.7M221.1 399.68H228.7M221.1 401.68H228.7M221.1 403.68H228.7M221.1 405.68H228.7M221.1 407.68H228.7M221.1 409.68H228.7M221.1 411.68H228.7" stroke="#383838" stroke-width="0.9" fill="none" clip-path="url(#c40)"/>
<rect x="221.1" y="347.68" width="7.6" height="64.32" fill="none" stroke="#333" stroke-width="0.7"/>
<line x1="232.5" y1="376.49" x2="232.5" y2="375.42" stroke="#222" stroke-width="0.7"/>
<line x1="230.9" y1="375.42" x2="234.1" y2="375.42" stroke="#222" stroke-width="0.7"/>
<clipPath id="c41"><rect x="228.7" y="376.49" width="7.6" height="35.51"/></clipPath>
<rect x="228.7" y="376.49" width="7.6" height="35.51" fill="#fff"/>
<path d="M194.92 376.49L225.8 412M197.82 376.49L228.7 412M200.72 376.49L231.6 412M203.62 376.49L234.5 412M206.52 376.49L237.4 412M209.42 376.49L240.3 412M212.32 376.49L243.2 412M215.22 376.49L246.1 412M218.12 376.49L249 412M221.02 376.49L251.9 412M223.92 376.49L254.8 412M226.82 376.49L257.7 412M229.72 376.49L260.6 412M232.62 376.49L263.5 412M235.52 376.49L266.4 412M238.42 376.49L269.3 412" stroke="#0a0a0a" stroke-width="1.15" fill="none" clip-path="url(#c41)"/>
<rect x="228.7" y="376.49" width="7.6" height="35.51" fill="none" stroke="#111" stroke-width="0.7"/>
<line x1="240.1" y1="408.25" x2="240.1" y2="406.1" stroke="#222" stroke-width="0.7"/>
<line x1="238.5" y1="406.1" x2="241.7" y2="406.1" stroke="#222" stroke-width="0.7"/>
<rect x="236.3" y="408.25" width="7.6" height="3.75" fill="#000" stroke="#000" stroke-width="0.7"/>
<line x1="247.7" y1="381.72" x2="247.7" y2="377.43" stroke="#222" stroke-width="0.7"/>
<line x1="246.1" y1="377.43" x2="249.3" y2="377.43" stroke="#222" stroke-width="0.7"/>
<rect x="243.9" y="381.72" width="7.6" height="30.28" fill="#fff" stroke="#222" stroke-width="0.7"/>
<line x1="255.3" y1="406.91" x2="255.3" y2="404.23" stroke="#222" stroke-width="0.7"/>
<line x1="253.7" y1="404.23" x2="256.9" y2="404.23" stroke="#222" stroke-width="0.7"/>
<clipPath id="c42"><rect x="251.5" y="406.91" width="7.6" height="5.09"/></clipPath>
<rect x="251.5" y="406.91" width="7.6" height="5.09" fill="#bcbcbc"/>
<path d="M251.5 406.91V412M253.4 406.91V412M255.3 406.91V412M257.2 406.91V412M259.1 406.91V412" stroke="#3a3a3a" stroke-width="0.8" fill="none" clip-path="url(#c42)"/>
<rect x="251.5" y="406.91" width="7.6" height="5.09" fill="none" stroke="#333" stroke-width="0.7"/>
<text x="246.5" y="341.5" font-size="8.4" text-anchor="start" font-weight="bold" fill="#000" style="stroke-width:.3px">IL-9</text>
<text x="173" y="366.4" font-size="6" text-anchor="middle" fill="#000" style="stroke-width:.12px"><tspan font-style="italic">P</tspan>=0.005</text>
<path d="M167.7 370.6 V367.8 H177 V370.6" fill="none" stroke="#222" stroke-width="0.7"/>
<text x="194.8" y="391.6" font-size="6" text-anchor="middle" fill="#000" style="stroke-width:.12px"><tspan font-style="italic">P</tspan>=0.02</text>
<path d="M190.8 395.8 V393 H199.4 V395.8" fill="none" stroke="#222" stroke-width="0.7"/>
<text x="233" y="336.3" font-size="6" text-anchor="middle" fill="#000" style="stroke-width:.12px"><tspan font-style="italic">P</tspan>=0.003</text>
<path d="M226 340.5 V337.7 H235.4 V340.5" fill="none" stroke="#222" stroke-width="0.7"/>
<text x="251.7" y="369.6" font-size="6" text-anchor="middle" fill="#000" style="stroke-width:.12px"><tspan font-style="italic">P</tspan>=0.001</text>
<path d="M248.6 373.8 V371 H257 V373.8" fill="none" stroke="#222" stroke-width="0.7"/>
<rect x="282.4" y="331.8" width="115.4" height="80.5" fill="#fff" stroke="#333" stroke-width="0.8"/>
<line x1="281.4" y1="331.8" x2="282.4" y2="331.8" stroke="#555" stroke-width="0.6"/>
<text x="280.9" y="333.92" font-size="5.9" text-anchor="end" fill="#000" style="stroke-width:.12px">1200</text>
<line x1="281.4" y1="351.93" x2="282.4" y2="351.93" stroke="#555" stroke-width="0.6"/>
<text x="280.9" y="354.05" font-size="5.9" text-anchor="end" fill="#000" style="stroke-width:.12px">900</text>
<line x1="281.4" y1="372.05" x2="282.4" y2="372.05" stroke="#555" stroke-width="0.6"/>
<text x="280.9" y="374.17" font-size="5.9" text-anchor="end" fill="#000" style="stroke-width:.12px">600</text>
<line x1="281.4" y1="392.18" x2="282.4" y2="392.18" stroke="#555" stroke-width="0.6"/>
<text x="280.9" y="394.3" font-size="5.9" text-anchor="end" fill="#000" style="stroke-width:.12px">300</text>
<line x1="281.4" y1="412.3" x2="282.4" y2="412.3" stroke="#555" stroke-width="0.6"/>
<text x="280.9" y="414.42" font-size="5.9" text-anchor="end" fill="#000" style="stroke-width:.12px">0</text>
<rect x="288.6" y="411.96" width="7.65" height="0.34" fill="#9a9a9a" stroke="#555" stroke-width="0.7"/>
<line x1="300.07" y1="343.88" x2="300.07" y2="339.18" stroke="#222" stroke-width="0.7"/>
<line x1="298.47" y1="339.18" x2="301.68" y2="339.18" stroke="#222" stroke-width="0.7"/>
<clipPath id="c43"><rect x="296.25" y="343.88" width="7.65" height="68.43"/></clipPath>
<rect x="296.25" y="343.88" width="7.65" height="68.43" fill="#b8b8b8"/>
<path d="M296.25 343.88H303.9M296.25 345.88H303.9M296.25 347.88H303.9M296.25 349.88H303.9M296.25 351.88H303.9M296.25 353.88H303.9M296.25 355.88H303.9M296.25 357.88H303.9M296.25 359.88H303.9M296.25 361.88H303.9M296.25 363.88H303.9M296.25 365.88H303.9M296.25 367.88H303.9M296.25 369.88H303.9M296.25 371.88H303.9M296.25 373.88H303.9M296.25 375.88H303.9M296.25 377.88H303.9M296.25 379.88H303.9M296.25 381.88H303.9M296.25 383.88H303.9M296.25 385.88H303.9M296.25 387.88H303.9M296.25 389.88H303.9M296.25 391.88H303.9M296.25 393.88H303.9M296.25 395.88H303.9M296.25 397.88H303.9M296.25 399.88H303.9M296.25 401.88H303.9M296.25 403.88H303.9M296.25 405.88H303.9M296.25 407.88H303.9M296.25 409.88H303.9M296.25 411.88H303.9" stroke="#383838" stroke-width="0.9" fill="none" clip-path="url(#c43)"/>
<rect x="296.25" y="343.88" width="7.65" height="68.43" fill="none" stroke="#333" stroke-width="0.7"/>
<clipPath id="c44"><rect x="303.9" y="402.37" width="7.65" height="9.93"/></clipPath>
<rect x="303.9" y="402.37" width="7.65" height="9.93" fill="#fff"/>
<path d="M292.37 402.37L301 412.3M295.27 402.37L303.9 412.3M298.17 402.37L306.8 412.3M301.07 402.37L309.7 412.3M303.97 402.37L312.6 412.3M306.87 402.37L315.5 412.3M309.77 402.37L318.4 412.3M312.67 402.37L321.3 412.3" stroke="#0a0a0a" stroke-width="1.15" fill="none" clip-path="url(#c44)"/>
<rect x="303.9" y="402.37" width="7.65" height="9.93" fill="none" stroke="#111" stroke-width="0.7"/>
<rect x="311.55" y="411.09" width="7.65" height="1.21" fill="#000" stroke="#000" stroke-width="0.7"/>
<line x1="323.03" y1="393.05" x2="323.03" y2="392.24" stroke="#222" stroke-width="0.7"/>
<line x1="321.43" y1="392.24" x2="324.63" y2="392.24" stroke="#222" stroke-width="0.7"/>
<rect x="319.2" y="393.05" width="7.65" height="19.25" fill="#fff" stroke="#222" stroke-width="0.7"/>
<line x1="330.68" y1="410.62" x2="330.68" y2="407.6" stroke="#222" stroke-width="0.7"/>
<line x1="329.07" y1="407.6" x2="332.28" y2="407.6" stroke="#222" stroke-width="0.7"/>
<clipPath id="c45"><rect x="326.85" y="410.62" width="7.65" height="1.68"/></clipPath>
<rect x="326.85" y="410.62" width="7.65" height="1.68" fill="#bcbcbc"/>
<path d="M326.85 410.62V412.3M328.75 410.62V412.3M330.65 410.62V412.3M332.55 410.62V412.3M334.45 410.62V412.3" stroke="#3a3a3a" stroke-width="0.8" fill="none" clip-path="url(#c45)"/>
<rect x="326.85" y="410.62" width="7.65" height="1.68" fill="none" stroke="#333" stroke-width="0.7"/>
<rect x="346.1" y="411.96" width="7.65" height="0.34" fill="#9a9a9a" stroke="#555" stroke-width="0.7"/>
<line x1="357.57" y1="371.38" x2="357.57" y2="369.9" stroke="#222" stroke-width="0.7"/>
<line x1="355.97" y1="369.9" x2="359.18" y2="369.9" stroke="#222" stroke-width="0.7"/>
<clipPath id="c46"><rect x="353.75" y="371.38" width="7.65" height="40.92"/></clipPath>
<rect x="353.75" y="371.38" width="7.65" height="40.92" fill="#b8b8b8"/>
<path d="M353.75 371.38H361.4M353.75 373.38H361.4M353.75 375.38H361.4M353.75 377.38H361.4M353.75 379.38H361.4M353.75 381.38H361.4M353.75 383.38H361.4M353.75 385.38H361.4M353.75 387.38H361.4M353.75 389.38H361.4M353.75 391.38H361.4M353.75 393.38H361.4M353.75 395.38H361.4M353.75 397.38H361.4M353.75 399.38H361.4M353.75 401.38H361.4M353.75 403.38H361.4M353.75 405.38H361.4M353.75 407.38H361.4M353.75 409.38H361.4M353.75 411.38H361.4" stroke="#383838" stroke-width="0.9" fill="none" clip-path="url(#c46)"/>
<rect x="353.75" y="371.38" width="7.65" height="40.92" fill="none" stroke="#333" stroke-width="0.7"/>
<clipPath id="c47"><rect x="361.4" y="393.05" width="7.65" height="19.25"/></clipPath>
<rect x="361.4" y="393.05" width="7.65" height="19.25" fill="#fff"/>
<path d="M341.76 393.05L358.5 412.3M344.66 393.05L361.4 412.3M347.56 393.05L364.3 412.3M350.46 393.05L367.2 412.3M353.36 393.05L370.1 412.3M356.26 393.05L373 412.3M359.16 393.05L375.9 412.3M362.06 393.05L378.8 412.3M364.96 393.05L381.7 412.3M367.86 393.05L384.6 412.3M370.76 393.05L387.5 412.3" stroke="#0a0a0a" stroke-width="1.15" fill="none" clip-path="url(#c47)"/>
<rect x="361.4" y="393.05" width="7.65" height="19.25" fill="none" stroke="#111" stroke-width="0.7"/>
<line x1="372.88" y1="411.43" x2="372.88" y2="410.62" stroke="#222" stroke-width="0.7"/>
<line x1="371.27" y1="410.62" x2="374.48" y2="410.62" stroke="#222" stroke-width="0.7"/>
<rect x="369.05" y="411.43" width="7.65" height="0.87" fill="#000" stroke="#000" stroke-width="0.7"/>
<line x1="380.53" y1="390.5" x2="380.53" y2="389.83" stroke="#222" stroke-width="0.7"/>
<line x1="378.93" y1="389.83" x2="382.13" y2="389.83" stroke="#222" stroke-width="0.7"/>
<rect x="376.7" y="390.5" width="7.65" height="21.8" fill="#fff" stroke="#222" stroke-width="0.7"/>
<line x1="388.18" y1="410.82" x2="388.18" y2="405.59" stroke="#222" stroke-width="0.7"/>
<line x1="386.57" y1="405.59" x2="389.78" y2="405.59" stroke="#222" stroke-width="0.7"/>
<clipPath id="c48"><rect x="384.35" y="410.82" width="7.65" height="1.48"/></clipPath>
<rect x="384.35" y="410.82" width="7.65" height="1.48" fill="#bcbcbc"/>
<path d="M384.35 410.82V412.3M386.25 410.82V412.3M388.15 410.82V412.3M390.05 410.82V412.3M391.95 410.82V412.3" stroke="#3a3a3a" stroke-width="0.8" fill="none" clip-path="url(#c48)"/>
<rect x="384.35" y="410.82" width="7.65" height="1.48" fill="none" stroke="#333" stroke-width="0.7"/>
<text x="372.5" y="341.7" font-size="8.4" text-anchor="start" font-weight="bold" fill="#000" style="stroke-width:.3px">IL-10</text>
<text x="307.5" y="336.9" font-size="6" text-anchor="middle" fill="#000" style="stroke-width:.12px"><tspan font-style="italic">P</tspan>=0.001</text>
<path d="M303.2 341.1 V338.3 H312.2 V341.1" fill="none" stroke="#222" stroke-width="0.7"/>
<text x="327.5" y="384.9" font-size="6" text-anchor="middle" fill="#000" style="stroke-width:.12px"><tspan font-style="italic">P</tspan>=0.001</text>
<path d="M323.8 389.1 V386.3 H331.5 V389.1" fill="none" stroke="#222" stroke-width="0.7"/>
<text x="361.7" y="363.4" font-size="6" text-anchor="middle" fill="#000" style="stroke-width:.12px"><tspan font-style="italic">P</tspan>=0.002</text>
<path d="M357.7 367.6 V364.8 H366.3 V367.6" fill="none" stroke="#222" stroke-width="0.7"/>
<text x="385.4" y="382.4" font-size="6" text-anchor="middle" fill="#000" style="stroke-width:.12px"><tspan font-style="italic">P</tspan>=0.001</text>
<path d="M380.8 386.6 V383.8 H390 V386.6" fill="none" stroke="#222" stroke-width="0.7"/>
<rect x="151" y="420.4" width="114.8" height="77.2" fill="#fff" stroke="#333" stroke-width="0.8"/>
<line x1="150" y1="420.4" x2="151" y2="420.4" stroke="#555" stroke-width="0.6"/>
<text x="149.5" y="422.52" font-size="5.9" text-anchor="end" fill="#000" style="stroke-width:.12px">8000</text>
<line x1="150" y1="439.7" x2="151" y2="439.7" stroke="#555" stroke-width="0.6"/>
<text x="149.5" y="441.82" font-size="5.9" text-anchor="end" fill="#000" style="stroke-width:.12px">6000</text>
<line x1="150" y1="459" x2="151" y2="459" stroke="#555" stroke-width="0.6"/>
<text x="149.5" y="461.12" font-size="5.9" text-anchor="end" fill="#000" style="stroke-width:.12px">4000</text>
<line x1="150" y1="478.3" x2="151" y2="478.3" stroke="#555" stroke-width="0.6"/>
<text x="149.5" y="480.42" font-size="5.9" text-anchor="end" fill="#000" style="stroke-width:.12px">2000</text>
<line x1="150" y1="497.6" x2="151" y2="497.6" stroke="#555" stroke-width="0.6"/>
<text x="149.5" y="499.72" font-size="5.9" text-anchor="end" fill="#000" style="stroke-width:.12px">0</text>
<rect x="157" y="497.21" width="7.65" height="0.39" fill="#9a9a9a" stroke="#555" stroke-width="0.7"/>
<line x1="168.47" y1="434.88" x2="168.47" y2="429.66" stroke="#222" stroke-width="0.7"/>
<line x1="166.88" y1="429.66" x2="170.07" y2="429.66" stroke="#222" stroke-width="0.7"/>
<clipPath id="c49"><rect x="164.65" y="434.88" width="7.65" height="62.73"/></clipPath>
<rect x="164.65" y="434.88" width="7.65" height="62.73" fill="#b8b8b8"/>
<path d="M164.65 434.88H172.3M164.65 436.88H172.3M164.65 438.88H172.3M164.65 440.88H172.3M164.65 442.88H172.3M164.65 444.88H172.3M164.65 446.88H172.3M164.65 448.88H172.3M164.65 450.88H172.3M164.65 452.88H172.3M164.65 454.88H172.3M164.65 456.88H172.3M164.65 458.88H172.3M164.65 460.88H172.3M164.65 462.88H172.3M164.65 464.88H172.3M164.65 466.88H172.3M164.65 468.88H172.3M164.65 470.88H172.3M164.65 472.88H172.3M164.65 474.88H172.3M164.65 476.88H172.3M164.65 478.88H172.3M164.65 480.88H172.3M164.65 482.88H172.3M164.65 484.88H172.3M164.65 486.88H172.3M164.65 488.88H172.3M164.65 490.88H172.3M164.65 492.88H172.3M164.65 494.88H172.3M164.65 496.88H172.3" stroke="#383838" stroke-width="0.9" fill="none" clip-path="url(#c49)"/>
<rect x="164.65" y="434.88" width="7.65" height="62.73" fill="none" stroke="#333" stroke-width="0.7"/>
<clipPath id="c50"><rect x="172.3" y="484.57" width="7.65" height="13.03"/></clipPath>
<rect x="172.3" y="484.57" width="7.65" height="13.03" fill="#fff"/>
<path d="M158.07 484.57L169.4 497.6M160.97 484.57L172.3 497.6M163.87 484.57L175.2 497.6M166.77 484.57L178.1 497.6M169.67 484.57L181 497.6M172.57 484.57L183.9 497.6M175.47 484.57L186.8 497.6M178.37 484.57L189.7 497.6M181.27 484.57L192.6 497.6" stroke="#0a0a0a" stroke-width="1.15" fill="none" clip-path="url(#c50)"/>
<rect x="172.3" y="484.57" width="7.65" height="13.03" fill="none" stroke="#111" stroke-width="0.7"/>
<rect x="179.95" y="496.15" width="7.65" height="1.45" fill="#000" stroke="#000" stroke-width="0.7"/>
<rect x="187.6" y="486.21" width="7.65" height="11.39" fill="#fff" stroke="#222" stroke-width="0.7"/>
<line x1="199.07" y1="495.67" x2="199.07" y2="492.68" stroke="#222" stroke-width="0.7"/>
<line x1="197.47" y1="492.68" x2="200.67" y2="492.68" stroke="#222" stroke-width="0.7"/>
<clipPath id="c51"><rect x="195.25" y="495.67" width="7.65" height="1.93"/></clipPath>
<rect x="195.25" y="495.67" width="7.65" height="1.93" fill="#bcbcbc"/>
<path d="M195.25 495.67V497.6M197.15 495.67V497.6M199.05 495.67V497.6M200.95 495.67V497.6M202.85 495.67V497.6" stroke="#3a3a3a" stroke-width="0.8" fill="none" clip-path="url(#c51)"/>
<rect x="195.25" y="495.67" width="7.65" height="1.93" fill="none" stroke="#333" stroke-width="0.7"/>
<rect x="214.6" y="497.21" width="7.7" height="0.39" fill="#9a9a9a" stroke="#555" stroke-width="0.7"/>
<line x1="226.15" y1="458.32" x2="226.15" y2="452.73" stroke="#222" stroke-width="0.7"/>
<line x1="224.55" y1="452.73" x2="227.75" y2="452.73" stroke="#222" stroke-width="0.7"/>
<clipPath id="c52"><rect x="222.3" y="458.32" width="7.7" height="39.28"/></clipPath>
<rect x="222.3" y="458.32" width="7.7" height="39.28" fill="#b8b8b8"/>
<path d="M222.3 458.32H230M222.3 460.32H230M222.3 462.32H230M222.3 464.32H230M222.3 466.32H230M222.3 468.32H230M222.3 470.32H230M222.3 472.32H230M222.3 474.32H230M222.3 476.32H230M222.3 478.32H230M222.3 480.32H230M222.3 482.32H230M222.3 484.32H230M222.3 486.32H230M222.3 488.32H230M222.3 490.32H230M222.3 492.32H230M222.3 494.32H230M222.3 496.32H230M222.3 498.32H230" stroke="#383838" stroke-width="0.9" fill="none" clip-path="url(#c52)"/>
<rect x="222.3" y="458.32" width="7.7" height="39.28" fill="none" stroke="#333" stroke-width="0.7"/>
<clipPath id="c53"><rect x="230" y="489.2" width="7.7" height="8.4"/></clipPath>
<rect x="230" y="489.2" width="7.7" height="8.4" fill="#fff"/>
<path d="M219.8 489.2L227.1 497.6M222.7 489.2L230 497.6M225.6 489.2L232.9 497.6M228.5 489.2L235.8 497.6M231.4 489.2L238.7 497.6M234.3 489.2L241.6 497.6M237.2 489.2L244.5 497.6M240.1 489.2L247.4 497.6" stroke="#0a0a0a" stroke-width="1.15" fill="none" clip-path="url(#c53)"/>
<rect x="230" y="489.2" width="7.7" height="8.4" fill="none" stroke="#111" stroke-width="0.7"/>
<rect x="237.7" y="496.64" width="7.7" height="0.96" fill="#000" stroke="#000" stroke-width="0.7"/>
<rect x="245.4" y="486.21" width="7.7" height="11.39" fill="#fff" stroke="#222" stroke-width="0.7"/>
<clipPath id="c54"><rect x="253.1" y="496.15" width="7.7" height="1.45"/></clipPath>
<rect x="253.1" y="496.15" width="7.7" height="1.45" fill="#bcbcbc"/>
<path d="M253.1 496.15V497.6M255 496.15V497.6M256.9 496.15V497.6M258.8 496.15V497.6M260.7 496.15V497.6" stroke="#3a3a3a" stroke-width="0.8" fill="none" clip-path="url(#c54)"/>
<rect x="253.1" y="496.15" width="7.7" height="1.45" fill="none" stroke="#333" stroke-width="0.7"/>
<text x="244.4" y="430.1" font-size="8.4" text-anchor="start" font-weight="bold" fill="#000" style="stroke-width:.3px">IL-13</text>
<text x="172.3" y="427.6" font-size="6" text-anchor="middle" fill="#000" style="stroke-width:.12px"><tspan font-style="italic">P</tspan>=0.001</text>
<path d="M169.2 431.8 V429 H177 V431.8" fill="none" stroke="#222" stroke-width="0.7"/>
<text x="195.4" y="477.8" font-size="6" text-anchor="middle" fill="#000" style="stroke-width:.12px"><tspan font-style="italic">P</tspan>=0.001</text>
<path d="M191.4 482 V479.2 H200 V482" fill="none" stroke="#222" stroke-width="0.7"/>
<text x="229.8" y="449" font-size="6" text-anchor="middle" fill="#000" style="stroke-width:.12px"><tspan font-style="italic">P</tspan>=0.001</text>
<path d="M226 453.2 V450.4 H234.6 V453.2" fill="none" stroke="#222" stroke-width="0.7"/>
<text x="251.7" y="477.8" font-size="6" text-anchor="middle" fill="#000" style="stroke-width:.12px"><tspan font-style="italic">P</tspan>=0.001</text>
<path d="M248.6 482 V479.2 H257 V482" fill="none" stroke="#222" stroke-width="0.7"/>
<text x="163" y="500.3" font-size="5.8" text-anchor="end" fill="#000" transform="rotate(-90 163 500.3)" style="stroke-width:.12px">media</text>
<text x="170.6" y="500.3" font-size="5.8" text-anchor="end" fill="#000" transform="rotate(-90 170.6 500.3)" style="stroke-width:.12px">CD3/28</text>
<text x="178.3" y="500.3" font-size="5.8" text-anchor="end" fill="#000" transform="rotate(-90 178.3 500.3)" style="stroke-width:.12px">CD3/28/NKG2D</text>
<text x="185.6" y="500.3" font-size="5.8" text-anchor="end" fill="#000" transform="rotate(-90 185.6 500.3)" style="stroke-width:.12px">NKG2D</text>
<text x="193.7" y="500.3" font-size="5.8" text-anchor="end" fill="#000" transform="rotate(-90 193.7 500.3)" style="stroke-width:.12px">CD3</text>
<text x="202.5" y="500.3" font-size="5.8" text-anchor="end" fill="#000" transform="rotate(-90 202.5 500.3)" style="stroke-width:.12px">CD3/NKG2D</text>
<text x="220.1" y="500.3" font-size="5.8" text-anchor="end" fill="#000" transform="rotate(-90 220.1 500.3)" style="stroke-width:.12px">media</text>
<text x="228" y="500.3" font-size="5.8" text-anchor="end" fill="#000" transform="rotate(-90 228 500.3)" style="stroke-width:.12px">CD3/28</text>
<text x="235.9" y="500.3" font-size="5.8" text-anchor="end" fill="#000" transform="rotate(-90 235.9 500.3)" style="stroke-width:.12px">CD3/28/NKG2D</text>
<text x="243.1" y="500.3" font-size="5.8" text-anchor="end" fill="#000" transform="rotate(-90 243.1 500.3)" style="stroke-width:.12px">NKG2D</text>
<text x="251.2" y="500.3" font-size="5.8" text-anchor="end" fill="#000" transform="rotate(-90 251.2 500.3)" style="stroke-width:.12px">CD3</text>
<text x="259.6" y="500.3" font-size="5.8" text-anchor="end" fill="#000" transform="rotate(-90 259.6 500.3)" style="stroke-width:.12px">CD3/NKG2D</text>
<rect x="282.2" y="420.5" width="116.3" height="77.2" fill="#fff" stroke="#333" stroke-width="0.8"/>
<line x1="281.2" y1="420.5" x2="282.2" y2="420.5" stroke="#555" stroke-width="0.6"/>
<text x="280.7" y="422.62" font-size="5.9" text-anchor="end" fill="#000" style="stroke-width:.12px">1200</text>
<line x1="281.2" y1="439.8" x2="282.2" y2="439.8" stroke="#555" stroke-width="0.6"/>
<text x="280.7" y="441.92" font-size="5.9" text-anchor="end" fill="#000" style="stroke-width:.12px">900</text>
<line x1="281.2" y1="459.1" x2="282.2" y2="459.1" stroke="#555" stroke-width="0.6"/>
<text x="280.7" y="461.22" font-size="5.9" text-anchor="end" fill="#000" style="stroke-width:.12px">600</text>
<line x1="281.2" y1="478.4" x2="282.2" y2="478.4" stroke="#555" stroke-width="0.6"/>
<text x="280.7" y="480.52" font-size="5.9" text-anchor="end" fill="#000" style="stroke-width:.12px">300</text>
<line x1="281.2" y1="497.7" x2="282.2" y2="497.7" stroke="#555" stroke-width="0.6"/>
<text x="280.7" y="499.82" font-size="5.9" text-anchor="end" fill="#000" style="stroke-width:.12px">0</text>
<line x1="290.46" y1="483.68" x2="290.46" y2="482.13" stroke="#222" stroke-width="0.7"/>
<line x1="288.86" y1="482.13" x2="292.06" y2="482.13" stroke="#222" stroke-width="0.7"/>
<rect x="286.5" y="483.68" width="7.93" height="14.02" fill="#9a9a9a" stroke="#555" stroke-width="0.7"/>
<line x1="298.39" y1="441.92" x2="298.39" y2="437.93" stroke="#222" stroke-width="0.7"/>
<line x1="296.79" y1="437.93" x2="300" y2="437.93" stroke="#222" stroke-width="0.7"/>
<clipPath id="c55"><rect x="294.43" y="441.92" width="7.93" height="55.78"/></clipPath>
<rect x="294.43" y="441.92" width="7.93" height="55.78" fill="#b8b8b8"/>
<path d="M294.43 441.92H302.36M294.43 443.92H302.36M294.43 445.92H302.36M294.43 447.92H302.36M294.43 449.92H302.36M294.43 451.92H302.36M294.43 453.92H302.36M294.43 455.92H302.36M294.43 457.92H302.36M294.43 459.92H302.36M294.43 461.92H302.36M294.43 463.92H302.36M294.43 465.92H302.36M294.43 467.92H302.36M294.43 469.92H302.36M294.43 471.92H302.36M294.43 473.92H302.36M294.43 475.92H302.36M294.43 477.92H302.36M294.43 479.92H302.36M294.43 481.92H302.36M294.43 483.92H302.36M294.43 485.92H302.36M294.43 487.92H302.36M294.43 489.92H302.36M294.43 491.92H302.36M294.43 493.92H302.36M294.43 495.92H302.36M294.43 497.92H302.36" stroke="#383838" stroke-width="0.9" fill="none" clip-path="url(#c55)"/>
<rect x="294.43" y="441.92" width="7.93" height="55.78" fill="none" stroke="#333" stroke-width="0.7"/>
<line x1="306.32" y1="461.48" x2="306.32" y2="458.91" stroke="#222" stroke-width="0.7"/>
<line x1="304.72" y1="458.91" x2="307.93" y2="458.91" stroke="#222" stroke-width="0.7"/>
<clipPath id="c56"><rect x="302.36" y="461.48" width="7.93" height="36.22"/></clipPath>
<rect x="302.36" y="461.48" width="7.93" height="36.22" fill="#fff"/>
<path d="M267.96 461.48L299.46 497.7M270.86 461.48L302.36 497.7M273.76 461.48L305.26 497.7M276.66 461.48L308.16 497.7M279.56 461.48L311.06 497.7M282.46 461.48L313.96 497.7M285.36 461.48L316.86 497.7M288.26 461.48L319.76 497.7M291.16 461.48L322.66 497.7M294.06 461.48L325.56 497.7M296.96 461.48L328.46 497.7M299.86 461.48L331.36 497.7M302.76 461.48L334.26 497.7M305.66 461.48L337.16 497.7M308.56 461.48L340.06 497.7M311.46 461.48L342.96 497.7" stroke="#0a0a0a" stroke-width="1.15" fill="none" clip-path="url(#c56)"/>
<rect x="302.36" y="461.48" width="7.93" height="36.22" fill="none" stroke="#111" stroke-width="0.7"/>
<rect x="310.29" y="480.65" width="7.93" height="17.05" fill="#000" stroke="#000" stroke-width="0.7"/>
<line x1="322.19" y1="458.39" x2="322.19" y2="455.3" stroke="#222" stroke-width="0.7"/>
<line x1="320.58" y1="455.3" x2="323.79" y2="455.3" stroke="#222" stroke-width="0.7"/>
<rect x="318.22" y="458.39" width="7.93" height="39.31" fill="#fff" stroke="#222" stroke-width="0.7"/>
<line x1="330.11" y1="481.3" x2="330.11" y2="479.11" stroke="#222" stroke-width="0.7"/>
<line x1="328.51" y1="479.11" x2="331.71" y2="479.11" stroke="#222" stroke-width="0.7"/>
<clipPath id="c57"><rect x="326.15" y="481.3" width="7.93" height="16.4"/></clipPath>
<rect x="326.15" y="481.3" width="7.93" height="16.4" fill="#bcbcbc"/>
<path d="M326.15 481.3V497.7M328.05 481.3V497.7M329.95 481.3V497.7M331.85 481.3V497.7M333.75 481.3V497.7" stroke="#3a3a3a" stroke-width="0.8" fill="none" clip-path="url(#c57)"/>
<rect x="326.15" y="481.3" width="7.93" height="16.4" fill="none" stroke="#333" stroke-width="0.7"/>
<line x1="349.54" y1="482.9" x2="349.54" y2="481.49" stroke="#222" stroke-width="0.7"/>
<line x1="347.94" y1="481.49" x2="351.14" y2="481.49" stroke="#222" stroke-width="0.7"/>
<rect x="345.6" y="482.9" width="7.87" height="14.8" fill="#9a9a9a" stroke="#555" stroke-width="0.7"/>
<line x1="357.41" y1="434.33" x2="357.41" y2="431.89" stroke="#222" stroke-width="0.7"/>
<line x1="355.81" y1="431.89" x2="359.01" y2="431.89" stroke="#222" stroke-width="0.7"/>
<clipPath id="c58"><rect x="353.47" y="434.33" width="7.87" height="63.37"/></clipPath>
<rect x="353.47" y="434.33" width="7.87" height="63.37" fill="#b8b8b8"/>
<path d="M353.47 434.33H361.34M353.47 436.33H361.34M353.47 438.33H361.34M353.47 440.33H361.34M353.47 442.33H361.34M353.47 444.33H361.34M353.47 446.33H361.34M353.47 448.33H361.34M353.47 450.33H361.34M353.47 452.33H361.34M353.47 454.33H361.34M353.47 456.33H361.34M353.47 458.33H361.34M353.47 460.33H361.34M353.47 462.33H361.34M353.47 464.33H361.34M353.47 466.33H361.34M353.47 468.33H361.34M353.47 470.33H361.34M353.47 472.33H361.34M353.47 474.33H361.34M353.47 476.33H361.34M353.47 478.33H361.34M353.47 480.33H361.34M353.47 482.33H361.34M353.47 484.33H361.34M353.47 486.33H361.34M353.47 488.33H361.34M353.47 490.33H361.34M353.47 492.33H361.34M353.47 494.33H361.34M353.47 496.33H361.34M353.47 498.33H361.34" stroke="#383838" stroke-width="0.9" fill="none" clip-path="url(#c58)"/>
<rect x="353.47" y="434.33" width="7.87" height="63.37" fill="none" stroke="#333" stroke-width="0.7"/>
<line x1="365.28" y1="464.63" x2="365.28" y2="462.83" stroke="#222" stroke-width="0.7"/>
<line x1="363.68" y1="462.83" x2="366.88" y2="462.83" stroke="#222" stroke-width="0.7"/>
<clipPath id="c59"><rect x="361.34" y="464.63" width="7.87" height="33.07"/></clipPath>
<rect x="361.34" y="464.63" width="7.87" height="33.07" fill="#fff"/>
<path d="M329.69 464.63L358.44 497.7M332.59 464.63L361.34 497.7M335.49 464.63L364.24 497.7M338.39 464.63L367.14 497.7M341.29 464.63L370.04 497.7M344.19 464.63L372.94 497.7M347.09 464.63L375.84 497.7M349.99 464.63L378.74 497.7M352.89 464.63L381.64 497.7M355.79 464.63L384.54 497.7M358.69 464.63L387.44 497.7M361.59 464.63L390.34 497.7M364.49 464.63L393.24 497.7M367.39 464.63L396.14 497.7M370.29 464.63L399.04 497.7" stroke="#0a0a0a" stroke-width="1.15" fill="none" clip-path="url(#c59)"/>
<rect x="361.34" y="464.63" width="7.87" height="33.07" fill="none" stroke="#111" stroke-width="0.7"/>
<line x1="373.15" y1="478.53" x2="373.15" y2="476.92" stroke="#222" stroke-width="0.7"/>
<line x1="371.55" y1="476.92" x2="374.75" y2="476.92" stroke="#222" stroke-width="0.7"/>
<rect x="369.21" y="478.53" width="7.87" height="19.17" fill="#000" stroke="#000" stroke-width="0.7"/>
<line x1="381.02" y1="452.86" x2="381.02" y2="449.84" stroke="#222" stroke-width="0.7"/>
<line x1="379.42" y1="449.84" x2="382.62" y2="449.84" stroke="#222" stroke-width="0.7"/>
<rect x="377.08" y="452.86" width="7.87" height="44.84" fill="#fff" stroke="#222" stroke-width="0.7"/>
<line x1="388.89" y1="476.66" x2="388.89" y2="472.8" stroke="#222" stroke-width="0.7"/>
<line x1="387.29" y1="472.8" x2="390.49" y2="472.8" stroke="#222" stroke-width="0.7"/>
<clipPath id="c60"><rect x="384.95" y="476.66" width="7.87" height="21.04"/></clipPath>
<rect x="384.95" y="476.66" width="7.87" height="21.04" fill="#bcbcbc"/>
<path d="M384.95 476.66V497.7M386.85 476.66V497.7M388.75 476.66V497.7M390.65 476.66V497.7M392.55 476.66V497.7" stroke="#3a3a3a" stroke-width="0.8" fill="none" clip-path="url(#c60)"/>
<rect x="384.95" y="476.66" width="7.87" height="21.04" fill="none" stroke="#333" stroke-width="0.7"/>
<text x="373" y="427" font-size="8.4" text-anchor="start" font-weight="bold" fill="#000" style="stroke-width:.3px"></text>
<text x="303.2" y="431.9" font-size="6" text-anchor="middle" fill="#000" style="stroke-width:.12px"><tspan font-style="italic">P</tspan>=0.002</text>
<path d="M298.3 436.1 V433.3 H307.5 V436.1" fill="none" stroke="#222" stroke-width="0.7"/>
<text x="327" y="449.2" font-size="6" text-anchor="middle" fill="#000" style="stroke-width:.12px"><tspan font-style="italic">P</tspan>=0.001</text>
<path d="M323 453.4 V450.6 H331.5 V453.4" fill="none" stroke="#222" stroke-width="0.7"/>
<text x="359.2" y="427.1" font-size="6" text-anchor="middle" fill="#000" style="stroke-width:.12px"><tspan font-style="italic">P</tspan>=0.001</text>
<path d="M354.6 431.3 V428.5 H362.3 V431.3" fill="none" stroke="#222" stroke-width="0.7"/>
<text x="385.4" y="444.9" font-size="6" text-anchor="middle" fill="#000" style="stroke-width:.12px"><tspan font-style="italic">P</tspan>=0.001</text>
<path d="M380.8 449.1 V446.3 H390 V449.1" fill="none" stroke="#222" stroke-width="0.7"/>
<text x="372.2" y="428.2" font-size="8.2" text-anchor="start" font-weight="bold" fill="#000" textLength="17.6" lengthAdjust="spacingAndGlyphs" style="stroke-width:.25px">VEGF</text>
<text x="390.3" y="428.2" font-size="7.4" text-anchor="start" fill="#000">α</text>
<text x="293.2" y="500.5" font-size="5.8" text-anchor="end" fill="#000" transform="rotate(-90 293.2 500.5)" style="stroke-width:.12px">media</text>
<text x="300.7" y="500.5" font-size="5.8" text-anchor="end" fill="#000" transform="rotate(-90 300.7 500.5)" style="stroke-width:.12px">CD3/28</text>
<text x="308.4" y="500.5" font-size="5.8" text-anchor="end" fill="#000" transform="rotate(-90 308.4 500.5)" style="stroke-width:.12px">CD3/28/NKG2D</text>
<text x="315.8" y="500.5" font-size="5.8" text-anchor="end" fill="#000" transform="rotate(-90 315.8 500.5)" style="stroke-width:.12px">NKG2D</text>
<text x="323.6" y="500.5" font-size="5.8" text-anchor="end" fill="#000" transform="rotate(-90 323.6 500.5)" style="stroke-width:.12px">CD3</text>
<text x="332.4" y="500.5" font-size="5.8" text-anchor="end" fill="#000" transform="rotate(-90 332.4 500.5)" style="stroke-width:.12px">CD3/NKG2D</text>
<text x="351.8" y="500.5" font-size="5.8" text-anchor="end" fill="#000" transform="rotate(-90 351.8 500.5)" style="stroke-width:.12px">media</text>
<text x="359.3" y="500.5" font-size="5.8" text-anchor="end" fill="#000" transform="rotate(-90 359.3 500.5)" style="stroke-width:.12px">CD3/28</text>
<text x="367.4" y="500.5" font-size="5.8" text-anchor="end" fill="#000" transform="rotate(-90 367.4 500.5)" style="stroke-width:.12px">CD3/28/NKG2D</text>
<text x="375" y="500.5" font-size="5.8" text-anchor="end" fill="#000" transform="rotate(-90 375 500.5)" style="stroke-width:.12px">NKG2D</text>
<text x="382.7" y="500.5" font-size="5.8" text-anchor="end" fill="#000" transform="rotate(-90 382.7 500.5)" style="stroke-width:.12px">CD3</text>
<text x="391.3" y="500.5" font-size="5.8" text-anchor="end" fill="#000" transform="rotate(-90 391.3 500.5)" style="stroke-width:.12px">CD3/NKG2D</text>
<text x="211.6" y="544.9" font-size="5.85" text-anchor="middle" fill="#000" style="stroke-width:.12px">Antibodies</text>
<line x1="157.5" y1="542.9" x2="196.2" y2="542.9" stroke="#333" stroke-width="0.8"/>
<line x1="225.2" y1="542.9" x2="265.6" y2="542.9" stroke="#333" stroke-width="0.8"/>
<text x="177.1" y="549.7" font-size="5.9" text-anchor="middle" fill="#000" style="stroke-width:.12px">Donor 3</text>
<text x="245" y="549.7" font-size="5.9" text-anchor="middle" fill="#000" style="stroke-width:.12px">Donor 4</text>
<text x="342.3" y="544.9" font-size="5.85" text-anchor="middle" fill="#000" style="stroke-width:.12px">Antibodies</text>
<line x1="287.7" y1="542.9" x2="326.3" y2="542.9" stroke="#333" stroke-width="0.8"/>
<line x1="356.4" y1="542.9" x2="395" y2="542.9" stroke="#333" stroke-width="0.8"/>
<text x="307.2" y="549.7" font-size="5.9" text-anchor="middle" fill="#000" style="stroke-width:.12px">Donor 3</text>
<text x="374.9" y="549.7" font-size="5.9" text-anchor="middle" fill="#000" style="stroke-width:.12px">Donor 4</text>
</svg>
</body></html>
